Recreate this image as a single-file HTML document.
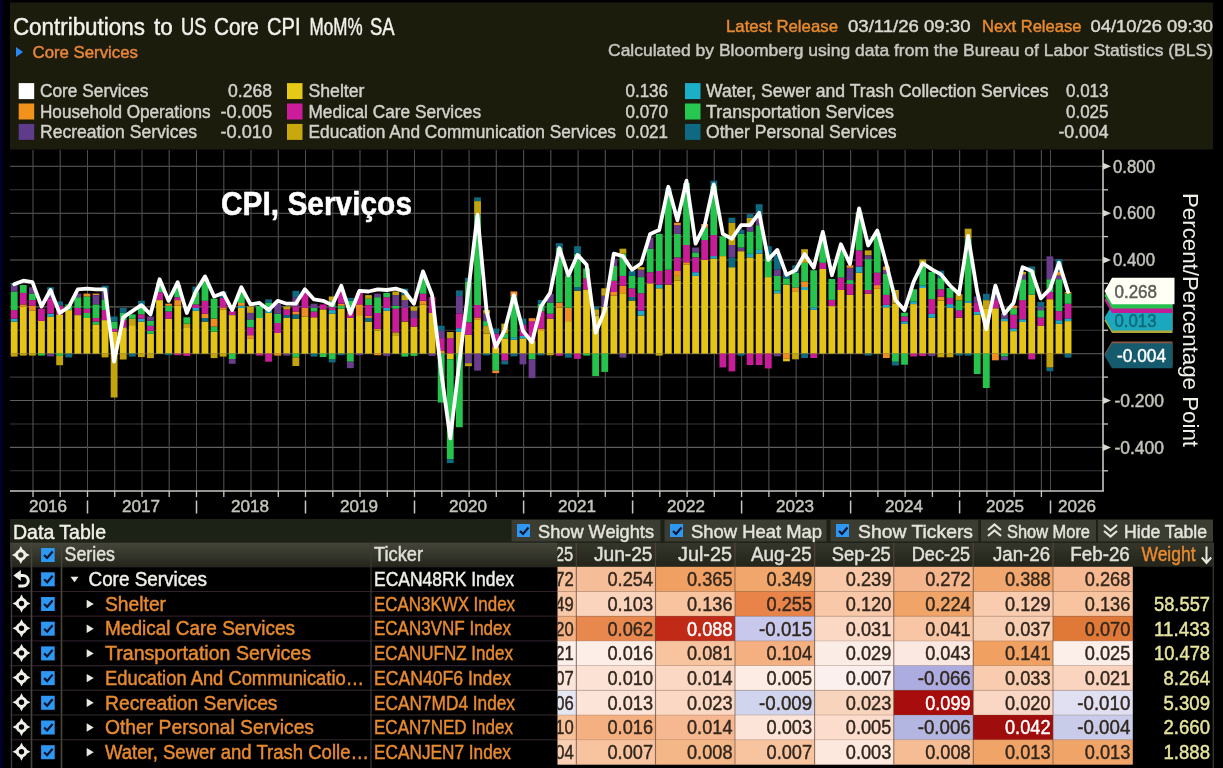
<!DOCTYPE html>
<html lang="en"><head><meta charset="utf-8"><title>Contributions to US Core CPI MoM% SA</title>
<style>
html,body{margin:0;padding:0;background:#020204;overflow:hidden}
svg{display:block;font-family:'Liberation Sans', sans-serif}
</style></head><body>
<svg width="1223" height="768" viewBox="0 0 1223 768">
<defs><filter id="soft" x="0" y="0" width="100%" height="100%" filterUnits="userSpaceOnUse"><feGaussianBlur stdDeviation="0.6"/></filter></defs>
<g filter="url(#soft)">
<rect x="0" y="0" width="1223" height="768" fill="#020204"/>
<rect x="0" y="0" width="2.6" height="768" fill="#06062e"/>
<rect x="10" y="2.5" width="1203" height="147" fill="#1a1b11"/>
<text x="12.9" y="35" font-size="23" fill="#f2f2ea" textLength="132" lengthAdjust="spacingAndGlyphs" stroke="#f2f2ea" stroke-width="0.45">Contributions</text>
<text x="154" y="35" font-size="23" fill="#f2f2ea" textLength="18.7" lengthAdjust="spacingAndGlyphs" stroke="#f2f2ea" stroke-width="0.45">to</text>
<text x="181" y="35" font-size="23" fill="#f2f2ea" textLength="25.5" lengthAdjust="spacingAndGlyphs" stroke="#f2f2ea" stroke-width="0.45">US</text>
<text x="213.9" y="35" font-size="23" fill="#f2f2ea" textLength="45" lengthAdjust="spacingAndGlyphs" stroke="#f2f2ea" stroke-width="0.45">Core</text>
<text x="267" y="35" font-size="23" fill="#f2f2ea" textLength="33.6" lengthAdjust="spacingAndGlyphs" stroke="#f2f2ea" stroke-width="0.45">CPI</text>
<text x="309.6" y="35" font-size="23" fill="#f2f2ea" textLength="53" lengthAdjust="spacingAndGlyphs" stroke="#f2f2ea" stroke-width="0.45">MoM%</text>
<text x="370" y="35" font-size="23" fill="#f2f2ea" textLength="24.6" lengthAdjust="spacingAndGlyphs" stroke="#f2f2ea" stroke-width="0.45">SA</text>
<path d="M16 47 L23 52 L16 57 Z" fill="#2a86f0"/>
<text x="32.5" y="58" font-size="17" fill="#e8873a" textLength="105.5" lengthAdjust="spacingAndGlyphs" stroke="#e8873a" stroke-width="0.45">Core Services</text>
<text x="726" y="32" font-size="17" fill="#e88a30" textLength="112" lengthAdjust="spacingAndGlyphs" stroke="#e88a30" stroke-width="0.45">Latest Release</text>
<text x="848" y="32" font-size="17" fill="#d8d8d0" textLength="122.5" lengthAdjust="spacingAndGlyphs" stroke="#d8d8d0" stroke-width="0.45">03/11/26 09:30</text>
<text x="982" y="32" font-size="17" fill="#e88a30" textLength="99.5" lengthAdjust="spacingAndGlyphs" stroke="#e88a30" stroke-width="0.45">Next Release</text>
<text x="1090.5" y="32" font-size="17" fill="#d8d8d0" textLength="122.5" lengthAdjust="spacingAndGlyphs" stroke="#d8d8d0" stroke-width="0.45">04/10/26 09:30</text>
<text x="1213" y="56" font-size="17" fill="#c8c8c0" text-anchor="end" textLength="605" lengthAdjust="spacingAndGlyphs" stroke="#c8c8c0" stroke-width="0.45">Calculated by Bloomberg using data from the Bureau of Labor Statistics (BLS)</text>
<rect x="18.7" y="83.1" width="15.5" height="16" fill="#ffffff"/>
<text x="40" y="97.3" font-size="17.5" fill="#d2d2ca" textLength="108.5" lengthAdjust="spacingAndGlyphs" stroke="#d2d2ca" stroke-width="0.45">Core Services</text>
<text x="272" y="97.3" font-size="17.5" fill="#d2d2ca" text-anchor="end" textLength="44" lengthAdjust="spacingAndGlyphs" stroke="#d2d2ca" stroke-width="0.45">0.268</text>
<rect x="18.7" y="103.5" width="15.5" height="16" fill="#f0921e"/>
<text x="40" y="117.7" font-size="17.5" fill="#d2d2ca" textLength="170.5" lengthAdjust="spacingAndGlyphs" stroke="#d2d2ca" stroke-width="0.45">Household Operations</text>
<text x="272" y="117.7" font-size="17.5" fill="#d2d2ca" text-anchor="end" textLength="51.5" lengthAdjust="spacingAndGlyphs" stroke="#d2d2ca" stroke-width="0.45">-0.005</text>
<rect x="18.7" y="123.9" width="15.5" height="16" fill="#5e3a8c"/>
<text x="40" y="138.1" font-size="17.5" fill="#d2d2ca" textLength="157" lengthAdjust="spacingAndGlyphs" stroke="#d2d2ca" stroke-width="0.45">Recreation Services</text>
<text x="272" y="138.1" font-size="17.5" fill="#d2d2ca" text-anchor="end" textLength="51.5" lengthAdjust="spacingAndGlyphs" stroke="#d2d2ca" stroke-width="0.45">-0.010</text>
<rect x="287" y="83.1" width="15.5" height="16" fill="#e6c814"/>
<text x="308.5" y="97.3" font-size="17.5" fill="#d2d2ca" textLength="56" lengthAdjust="spacingAndGlyphs" stroke="#d2d2ca" stroke-width="0.45">Shelter</text>
<text x="668" y="97.3" font-size="17.5" fill="#d2d2ca" text-anchor="end" textLength="42.5" lengthAdjust="spacingAndGlyphs" stroke="#d2d2ca" stroke-width="0.45">0.136</text>
<rect x="287" y="103.5" width="15.5" height="16" fill="#cc1a9c"/>
<text x="308.5" y="117.7" font-size="17.5" fill="#d2d2ca" textLength="172.5" lengthAdjust="spacingAndGlyphs" stroke="#d2d2ca" stroke-width="0.45">Medical Care Services</text>
<text x="668" y="117.7" font-size="17.5" fill="#d2d2ca" text-anchor="end" textLength="42.5" lengthAdjust="spacingAndGlyphs" stroke="#d2d2ca" stroke-width="0.45">0.070</text>
<rect x="287" y="123.9" width="15.5" height="16" fill="#c8a80a"/>
<text x="308.5" y="138.1" font-size="17.5" fill="#d2d2ca" textLength="307.5" lengthAdjust="spacingAndGlyphs" stroke="#d2d2ca" stroke-width="0.45">Education And Communication Services</text>
<text x="668" y="138.1" font-size="17.5" fill="#d2d2ca" text-anchor="end" textLength="42.5" lengthAdjust="spacingAndGlyphs" stroke="#d2d2ca" stroke-width="0.45">0.021</text>
<rect x="685" y="83.1" width="15.5" height="16" fill="#1fb0c8"/>
<text x="706" y="97.3" font-size="17.5" fill="#d2d2ca" textLength="342.5" lengthAdjust="spacingAndGlyphs" stroke="#d2d2ca" stroke-width="0.45">Water, Sewer and Trash Collection Services</text>
<text x="1108.5" y="97.3" font-size="17.5" fill="#d2d2ca" text-anchor="end" textLength="42.5" lengthAdjust="spacingAndGlyphs" stroke="#d2d2ca" stroke-width="0.45">0.013</text>
<rect x="685" y="103.5" width="15.5" height="16" fill="#28c850"/>
<text x="706" y="117.7" font-size="17.5" fill="#d2d2ca" textLength="188" lengthAdjust="spacingAndGlyphs" stroke="#d2d2ca" stroke-width="0.45">Transportation Services</text>
<text x="1108.5" y="117.7" font-size="17.5" fill="#d2d2ca" text-anchor="end" textLength="42.5" lengthAdjust="spacingAndGlyphs" stroke="#d2d2ca" stroke-width="0.45">0.025</text>
<rect x="685" y="123.9" width="15.5" height="16" fill="#0f6a82"/>
<text x="706" y="138.1" font-size="17.5" fill="#d2d2ca" textLength="190.5" lengthAdjust="spacingAndGlyphs" stroke="#d2d2ca" stroke-width="0.45">Other Personal Services</text>
<text x="1108.5" y="138.1" font-size="17.5" fill="#d2d2ca" text-anchor="end" textLength="50" lengthAdjust="spacingAndGlyphs" stroke="#d2d2ca" stroke-width="0.45">-0.004</text>
<rect x="10" y="150" width="1213" height="368" fill="#030303"/>
<line x1="10" y1="470.8" x2="1103" y2="470.8" stroke="#3a3a38" stroke-width="1.1"/>
<line x1="10" y1="447.4" x2="1103" y2="447.4" stroke="#5e5e5c" stroke-width="1.1"/>
<line x1="10" y1="424.0" x2="1103" y2="424.0" stroke="#3a3a38" stroke-width="1.1"/>
<line x1="10" y1="400.5" x2="1103" y2="400.5" stroke="#5e5e5c" stroke-width="1.1"/>
<line x1="10" y1="377.1" x2="1103" y2="377.1" stroke="#3a3a38" stroke-width="1.1"/>
<line x1="10" y1="353.7" x2="1103" y2="353.7" stroke="#5e5e5c" stroke-width="1.1"/>
<line x1="10" y1="330.3" x2="1103" y2="330.3" stroke="#3a3a38" stroke-width="1.1"/>
<line x1="10" y1="306.9" x2="1103" y2="306.9" stroke="#5e5e5c" stroke-width="1.1"/>
<line x1="10" y1="283.4" x2="1103" y2="283.4" stroke="#3a3a38" stroke-width="1.1"/>
<line x1="10" y1="260.0" x2="1103" y2="260.0" stroke="#5e5e5c" stroke-width="1.1"/>
<line x1="10" y1="236.6" x2="1103" y2="236.6" stroke="#3a3a38" stroke-width="1.1"/>
<line x1="10" y1="213.2" x2="1103" y2="213.2" stroke="#5e5e5c" stroke-width="1.1"/>
<line x1="10" y1="189.8" x2="1103" y2="189.8" stroke="#3a3a38" stroke-width="1.1"/>
<line x1="10" y1="166.3" x2="1103" y2="166.3" stroke="#5e5e5c" stroke-width="1.1"/>
<line x1="33.0" y1="150" x2="33.0" y2="491" stroke="#4e4e4c" stroke-width="1.1"/>
<line x1="60.2" y1="150" x2="60.2" y2="491" stroke="#4e4e4c" stroke-width="1.1"/>
<line x1="87.5" y1="150" x2="87.5" y2="491" stroke="#4e4e4c" stroke-width="1.1"/>
<line x1="114.7" y1="150" x2="114.7" y2="491" stroke="#4e4e4c" stroke-width="1.1"/>
<line x1="142.0" y1="150" x2="142.0" y2="491" stroke="#4e4e4c" stroke-width="1.1"/>
<line x1="169.2" y1="150" x2="169.2" y2="491" stroke="#4e4e4c" stroke-width="1.1"/>
<line x1="196.5" y1="150" x2="196.5" y2="491" stroke="#4e4e4c" stroke-width="1.1"/>
<line x1="223.8" y1="150" x2="223.8" y2="491" stroke="#4e4e4c" stroke-width="1.1"/>
<line x1="251.0" y1="150" x2="251.0" y2="491" stroke="#4e4e4c" stroke-width="1.1"/>
<line x1="278.3" y1="150" x2="278.3" y2="491" stroke="#4e4e4c" stroke-width="1.1"/>
<line x1="305.5" y1="150" x2="305.5" y2="491" stroke="#4e4e4c" stroke-width="1.1"/>
<line x1="332.8" y1="150" x2="332.8" y2="491" stroke="#4e4e4c" stroke-width="1.1"/>
<line x1="360.0" y1="150" x2="360.0" y2="491" stroke="#4e4e4c" stroke-width="1.1"/>
<line x1="387.3" y1="150" x2="387.3" y2="491" stroke="#4e4e4c" stroke-width="1.1"/>
<line x1="414.5" y1="150" x2="414.5" y2="491" stroke="#4e4e4c" stroke-width="1.1"/>
<line x1="441.8" y1="150" x2="441.8" y2="491" stroke="#4e4e4c" stroke-width="1.1"/>
<line x1="469.1" y1="150" x2="469.1" y2="491" stroke="#4e4e4c" stroke-width="1.1"/>
<line x1="496.3" y1="150" x2="496.3" y2="491" stroke="#4e4e4c" stroke-width="1.1"/>
<line x1="523.6" y1="150" x2="523.6" y2="491" stroke="#4e4e4c" stroke-width="1.1"/>
<line x1="550.8" y1="150" x2="550.8" y2="491" stroke="#4e4e4c" stroke-width="1.1"/>
<line x1="578.1" y1="150" x2="578.1" y2="491" stroke="#4e4e4c" stroke-width="1.1"/>
<line x1="605.3" y1="150" x2="605.3" y2="491" stroke="#4e4e4c" stroke-width="1.1"/>
<line x1="632.6" y1="150" x2="632.6" y2="491" stroke="#4e4e4c" stroke-width="1.1"/>
<line x1="659.8" y1="150" x2="659.8" y2="491" stroke="#4e4e4c" stroke-width="1.1"/>
<line x1="687.1" y1="150" x2="687.1" y2="491" stroke="#4e4e4c" stroke-width="1.1"/>
<line x1="714.3" y1="150" x2="714.3" y2="491" stroke="#4e4e4c" stroke-width="1.1"/>
<line x1="741.6" y1="150" x2="741.6" y2="491" stroke="#4e4e4c" stroke-width="1.1"/>
<line x1="768.9" y1="150" x2="768.9" y2="491" stroke="#4e4e4c" stroke-width="1.1"/>
<line x1="796.1" y1="150" x2="796.1" y2="491" stroke="#4e4e4c" stroke-width="1.1"/>
<line x1="823.4" y1="150" x2="823.4" y2="491" stroke="#4e4e4c" stroke-width="1.1"/>
<line x1="850.6" y1="150" x2="850.6" y2="491" stroke="#4e4e4c" stroke-width="1.1"/>
<line x1="877.9" y1="150" x2="877.9" y2="491" stroke="#4e4e4c" stroke-width="1.1"/>
<line x1="905.1" y1="150" x2="905.1" y2="491" stroke="#4e4e4c" stroke-width="1.1"/>
<line x1="932.4" y1="150" x2="932.4" y2="491" stroke="#4e4e4c" stroke-width="1.1"/>
<line x1="959.6" y1="150" x2="959.6" y2="491" stroke="#4e4e4c" stroke-width="1.1"/>
<line x1="986.9" y1="150" x2="986.9" y2="491" stroke="#4e4e4c" stroke-width="1.1"/>
<line x1="1014.2" y1="150" x2="1014.2" y2="491" stroke="#4e4e4c" stroke-width="1.1"/>
<line x1="1041.4" y1="150" x2="1041.4" y2="491" stroke="#4e4e4c" stroke-width="1.1"/>
<line x1="1050.5" y1="150" x2="1050.5" y2="491" stroke="#4e4e4c" stroke-width="1"/>
<rect x="10.8" y="321.6" width="6.8" height="32.0" fill="#e4c412"/>
<rect x="10.8" y="318.7" width="6.8" height="2.9" fill="#20acc4"/>
<rect x="10.8" y="310.1" width="6.8" height="8.6" fill="#c81c98"/>
<rect x="10.8" y="291.5" width="6.8" height="18.6" fill="#26c44e"/>
<rect x="10.8" y="285.8" width="6.8" height="5.7" fill="#6a3c8c"/>
<rect x="10.8" y="282.9" width="6.8" height="2.9" fill="#106a80"/>
<rect x="10.8" y="353.6" width="6.8" height="3.0" fill="#c4a40c"/>
<rect x="19.89" y="306.5" width="6.8" height="47.1" fill="#e4c412"/>
<rect x="19.89" y="304.4" width="6.8" height="2.1" fill="#ee8e22"/>
<rect x="19.89" y="292.9" width="6.8" height="11.5" fill="#c81c98"/>
<rect x="19.89" y="285.0" width="6.8" height="7.9" fill="#26c44e"/>
<rect x="19.89" y="353.6" width="6.8" height="2.0" fill="#c4a40c"/>
<rect x="28.97" y="310.8" width="6.8" height="42.8" fill="#e4c412"/>
<rect x="28.97" y="305.8" width="6.8" height="5.0" fill="#ee8e22"/>
<rect x="28.97" y="300.1" width="6.8" height="5.7" fill="#c81c98"/>
<rect x="28.97" y="293.6" width="6.8" height="6.4" fill="#26c44e"/>
<rect x="28.97" y="287.2" width="6.8" height="6.4" fill="#6a3c8c"/>
<rect x="28.97" y="353.6" width="6.8" height="2.0" fill="#c4a40c"/>
<rect x="38.05" y="320.8" width="6.8" height="32.8" fill="#e4c412"/>
<rect x="38.05" y="308.7" width="6.8" height="12.2" fill="#c81c98"/>
<rect x="38.05" y="353.6" width="6.8" height="2.0" fill="#26c44e"/>
<rect x="47.14" y="316.5" width="6.8" height="37.1" fill="#e4c412"/>
<rect x="47.14" y="313.7" width="6.8" height="2.9" fill="#20acc4"/>
<rect x="47.14" y="298.6" width="6.8" height="15.0" fill="#c81c98"/>
<rect x="47.14" y="290.0" width="6.8" height="8.6" fill="#6a3c8c"/>
<rect x="47.14" y="287.2" width="6.8" height="2.9" fill="#106a80"/>
<rect x="47.14" y="353.6" width="6.8" height="2.8" fill="#6a3c8c"/>
<rect x="56.23" y="314.4" width="6.8" height="39.2" fill="#e4c412"/>
<rect x="56.23" y="305.8" width="6.8" height="8.6" fill="#c81c98"/>
<rect x="56.23" y="301.5" width="6.8" height="4.3" fill="#106a80"/>
<rect x="56.23" y="353.6" width="6.8" height="2.3" fill="#26c44e"/>
<rect x="56.23" y="355.9" width="6.8" height="9.3" fill="#c4a40c"/>
<rect x="65.31" y="310.1" width="6.8" height="43.5" fill="#e4c412"/>
<rect x="65.31" y="304.4" width="6.8" height="5.7" fill="#26c44e"/>
<rect x="65.31" y="353.6" width="6.8" height="3.8" fill="#106a80"/>
<rect x="74.39" y="315.1" width="6.8" height="38.5" fill="#e4c412"/>
<rect x="74.39" y="307.9" width="6.8" height="7.2" fill="#c81c98"/>
<rect x="74.39" y="297.2" width="6.8" height="10.7" fill="#26c44e"/>
<rect x="74.39" y="293.6" width="6.8" height="3.6" fill="#6a3c8c"/>
<rect x="83.48" y="318.0" width="6.8" height="35.6" fill="#e4c412"/>
<rect x="83.48" y="313.0" width="6.8" height="5.0" fill="#26c44e"/>
<rect x="83.48" y="308.7" width="6.8" height="4.3" fill="#c81c98"/>
<rect x="83.48" y="296.5" width="6.8" height="12.2" fill="#26c44e"/>
<rect x="83.48" y="293.6" width="6.8" height="2.9" fill="#ee8e22"/>
<rect x="92.57" y="324.4" width="6.8" height="29.2" fill="#e4c412"/>
<rect x="92.57" y="321.6" width="6.8" height="2.9" fill="#26c44e"/>
<rect x="92.57" y="318.0" width="6.8" height="3.6" fill="#c81c98"/>
<rect x="92.57" y="304.4" width="6.8" height="13.6" fill="#26c44e"/>
<rect x="92.57" y="295.1" width="6.8" height="9.3" fill="#6a3c8c"/>
<rect x="92.57" y="293.6" width="6.8" height="1.4" fill="#ee8e22"/>
<rect x="101.65" y="320.1" width="6.8" height="33.5" fill="#e4c412"/>
<rect x="101.65" y="310.1" width="6.8" height="10.0" fill="#c81c98"/>
<rect x="101.65" y="299.4" width="6.8" height="10.7" fill="#26c44e"/>
<rect x="101.65" y="291.5" width="6.8" height="7.9" fill="#6a3c8c"/>
<rect x="101.65" y="285.8" width="6.8" height="5.7" fill="#106a80"/>
<rect x="101.65" y="353.6" width="6.8" height="3.8" fill="#c4a40c"/>
<rect x="110.73" y="331.6" width="6.8" height="22.0" fill="#e4c412"/>
<rect x="110.73" y="328.7" width="6.8" height="2.9" fill="#c81c98"/>
<rect x="110.73" y="321.6" width="6.8" height="7.2" fill="#26c44e"/>
<rect x="110.73" y="316.5" width="6.8" height="5.0" fill="#106a80"/>
<rect x="110.73" y="353.6" width="6.8" height="43.9" fill="#c4a40c"/>
<rect x="119.82" y="327.3" width="6.8" height="26.3" fill="#e4c412"/>
<rect x="119.82" y="320.1" width="6.8" height="7.2" fill="#c81c98"/>
<rect x="119.82" y="313.0" width="6.8" height="7.2" fill="#26c44e"/>
<rect x="119.82" y="307.9" width="6.8" height="5.0" fill="#106a80"/>
<rect x="119.82" y="353.6" width="6.8" height="5.9" fill="#c4a40c"/>
<rect x="128.91" y="325.1" width="6.8" height="28.5" fill="#e4c412"/>
<rect x="128.91" y="318.7" width="6.8" height="6.4" fill="#c4a40c"/>
<rect x="128.91" y="314.4" width="6.8" height="4.3" fill="#26c44e"/>
<rect x="128.91" y="353.6" width="6.8" height="3.0" fill="#106a80"/>
<rect x="137.99" y="321.6" width="6.8" height="32.0" fill="#e4c412"/>
<rect x="137.99" y="318.7" width="6.8" height="2.9" fill="#20acc4"/>
<rect x="137.99" y="314.4" width="6.8" height="4.3" fill="#c81c98"/>
<rect x="137.99" y="304.4" width="6.8" height="10.0" fill="#26c44e"/>
<rect x="137.99" y="300.8" width="6.8" height="3.6" fill="#106a80"/>
<rect x="137.99" y="353.6" width="6.8" height="3.5" fill="#c4a40c"/>
<rect x="147.07" y="333.7" width="6.8" height="19.9" fill="#e4c412"/>
<rect x="147.07" y="330.9" width="6.8" height="2.9" fill="#26c44e"/>
<rect x="147.07" y="325.8" width="6.8" height="5.0" fill="#c81c98"/>
<rect x="147.07" y="320.8" width="6.8" height="5.0" fill="#26c44e"/>
<rect x="147.07" y="316.5" width="6.8" height="4.3" fill="#6a3c8c"/>
<rect x="147.07" y="353.6" width="6.8" height="4.5" fill="#c4a40c"/>
<rect x="156.16" y="300.1" width="6.8" height="53.5" fill="#e4c412"/>
<rect x="156.16" y="292.2" width="6.8" height="7.9" fill="#c81c98"/>
<rect x="156.16" y="282.2" width="6.8" height="10.0" fill="#26c44e"/>
<rect x="165.25" y="318.7" width="6.8" height="34.9" fill="#e4c412"/>
<rect x="165.25" y="311.5" width="6.8" height="7.2" fill="#c81c98"/>
<rect x="165.25" y="305.8" width="6.8" height="5.7" fill="#26c44e"/>
<rect x="165.25" y="303.7" width="6.8" height="2.1" fill="#ee8e22"/>
<rect x="165.25" y="353.6" width="6.8" height="1.6" fill="#106a80"/>
<rect x="174.33" y="305.8" width="6.8" height="47.8" fill="#e4c412"/>
<rect x="174.33" y="300.1" width="6.8" height="5.7" fill="#ee8e22"/>
<rect x="174.33" y="297.2" width="6.8" height="2.9" fill="#c81c98"/>
<rect x="174.33" y="285.0" width="6.8" height="12.2" fill="#26c44e"/>
<rect x="174.33" y="353.6" width="6.8" height="1.6" fill="#c81c98"/>
<rect x="183.41" y="328.0" width="6.8" height="25.6" fill="#e4c412"/>
<rect x="183.41" y="323.7" width="6.8" height="4.3" fill="#c4a40c"/>
<rect x="183.41" y="317.3" width="6.8" height="6.4" fill="#26c44e"/>
<rect x="183.41" y="353.6" width="6.8" height="2.3" fill="#c81c98"/>
<rect x="192.5" y="310.8" width="6.8" height="42.8" fill="#e4c412"/>
<rect x="192.5" y="307.9" width="6.8" height="2.9" fill="#20acc4"/>
<rect x="192.5" y="304.4" width="6.8" height="3.6" fill="#c81c98"/>
<rect x="192.5" y="291.5" width="6.8" height="12.9" fill="#26c44e"/>
<rect x="192.5" y="286.5" width="6.8" height="5.0" fill="#106a80"/>
<rect x="201.59" y="321.6" width="6.8" height="32.0" fill="#e4c412"/>
<rect x="201.59" y="318.0" width="6.8" height="3.6" fill="#106a80"/>
<rect x="201.59" y="313.7" width="6.8" height="4.3" fill="#ee8e22"/>
<rect x="201.59" y="300.8" width="6.8" height="12.9" fill="#c81c98"/>
<rect x="201.59" y="278.6" width="6.8" height="22.2" fill="#26c44e"/>
<rect x="210.67" y="331.6" width="6.8" height="22.0" fill="#e4c412"/>
<rect x="210.67" y="326.6" width="6.8" height="5.0" fill="#26c44e"/>
<rect x="210.67" y="318.7" width="6.8" height="7.9" fill="#ee8e22"/>
<rect x="210.67" y="298.6" width="6.8" height="20.0" fill="#26c44e"/>
<rect x="210.67" y="353.6" width="6.8" height="4.5" fill="#c4a40c"/>
<rect x="219.75" y="309.4" width="6.8" height="44.2" fill="#e4c412"/>
<rect x="219.75" y="307.5" width="6.8" height="1.9" fill="#ee8e22"/>
<rect x="219.75" y="297.9" width="6.8" height="9.6" fill="#c81c98"/>
<rect x="219.75" y="291.5" width="6.8" height="6.4" fill="#106a80"/>
<rect x="219.75" y="353.6" width="6.8" height="3.0" fill="#c4a40c"/>
<rect x="228.84" y="315.1" width="6.8" height="38.5" fill="#e4c412"/>
<rect x="228.84" y="311.1" width="6.8" height="4.0" fill="#c81c98"/>
<rect x="228.84" y="353.6" width="6.8" height="5.5" fill="#26c44e"/>
<rect x="228.84" y="359.1" width="6.8" height="4.7" fill="#6a3c8c"/>
<rect x="237.93" y="307.9" width="6.8" height="45.7" fill="#e4c412"/>
<rect x="237.93" y="305.8" width="6.8" height="2.1" fill="#20acc4"/>
<rect x="237.93" y="302.9" width="6.8" height="2.9" fill="#ee8e22"/>
<rect x="237.93" y="291.5" width="6.8" height="11.5" fill="#26c44e"/>
<rect x="247.01" y="338.7" width="6.8" height="14.9" fill="#e4c412"/>
<rect x="247.01" y="335.2" width="6.8" height="3.6" fill="#ee8e22"/>
<rect x="247.01" y="327.3" width="6.8" height="7.9" fill="#c81c98"/>
<rect x="247.01" y="319.4" width="6.8" height="7.9" fill="#26c44e"/>
<rect x="247.01" y="313.0" width="6.8" height="6.4" fill="#6a3c8c"/>
<rect x="247.01" y="306.5" width="6.8" height="6.4" fill="#c4a40c"/>
<rect x="256.1" y="318.0" width="6.8" height="35.6" fill="#e4c412"/>
<rect x="256.1" y="305.8" width="6.8" height="12.2" fill="#26c44e"/>
<rect x="256.1" y="353.6" width="6.8" height="2.0" fill="#c81c98"/>
<rect x="265.18" y="313.0" width="6.8" height="40.6" fill="#e4c412"/>
<rect x="265.18" y="310.8" width="6.8" height="2.1" fill="#20acc4"/>
<rect x="265.18" y="302.9" width="6.8" height="7.9" fill="#26c44e"/>
<rect x="265.18" y="299.4" width="6.8" height="3.6" fill="#106a80"/>
<rect x="265.18" y="353.6" width="6.8" height="8.1" fill="#c81c98"/>
<rect x="274.27" y="333.0" width="6.8" height="20.6" fill="#e4c412"/>
<rect x="274.27" y="323.0" width="6.8" height="10.0" fill="#c81c98"/>
<rect x="274.27" y="313.7" width="6.8" height="9.3" fill="#26c44e"/>
<rect x="274.27" y="303.7" width="6.8" height="10.0" fill="#6a3c8c"/>
<rect x="274.27" y="353.6" width="6.8" height="2.0" fill="#ee8e22"/>
<rect x="283.35" y="318.0" width="6.8" height="35.6" fill="#e4c412"/>
<rect x="283.35" y="315.1" width="6.8" height="2.9" fill="#106a80"/>
<rect x="283.35" y="309.4" width="6.8" height="5.7" fill="#c81c98"/>
<rect x="283.35" y="306.5" width="6.8" height="2.9" fill="#c4a40c"/>
<rect x="283.35" y="353.6" width="6.8" height="2.0" fill="#6a3c8c"/>
<rect x="292.44" y="318.7" width="6.8" height="34.9" fill="#e4c412"/>
<rect x="292.44" y="314.4" width="6.8" height="4.3" fill="#106a80"/>
<rect x="292.44" y="311.5" width="6.8" height="2.9" fill="#ee8e22"/>
<rect x="292.44" y="306.5" width="6.8" height="5.0" fill="#c81c98"/>
<rect x="292.44" y="297.2" width="6.8" height="9.3" fill="#6a3c8c"/>
<rect x="292.44" y="290.8" width="6.8" height="6.4" fill="#106a80"/>
<rect x="292.44" y="353.6" width="6.8" height="3.8" fill="#26c44e"/>
<rect x="292.44" y="357.4" width="6.8" height="8.6" fill="#c4a40c"/>
<rect x="301.52" y="316.5" width="6.8" height="37.1" fill="#e4c412"/>
<rect x="301.52" y="307.9" width="6.8" height="8.6" fill="#ee8e22"/>
<rect x="301.52" y="292.9" width="6.8" height="15.0" fill="#c81c98"/>
<rect x="310.61" y="317.3" width="6.8" height="36.3" fill="#e4c412"/>
<rect x="310.61" y="311.5" width="6.8" height="5.7" fill="#c81c98"/>
<rect x="310.61" y="307.9" width="6.8" height="3.6" fill="#26c44e"/>
<rect x="310.61" y="303.7" width="6.8" height="4.3" fill="#6a3c8c"/>
<rect x="310.61" y="353.6" width="6.8" height="3.0" fill="#106a80"/>
<rect x="319.69" y="309.4" width="6.8" height="44.2" fill="#e4c412"/>
<rect x="319.69" y="304.4" width="6.8" height="5.0" fill="#c81c98"/>
<rect x="319.69" y="353.6" width="6.8" height="3.5" fill="#26c44e"/>
<rect x="328.78" y="313.7" width="6.8" height="39.9" fill="#e4c412"/>
<rect x="328.78" y="310.1" width="6.8" height="3.6" fill="#20acc4"/>
<rect x="328.78" y="307.2" width="6.8" height="2.9" fill="#c81c98"/>
<rect x="328.78" y="300.8" width="6.8" height="6.4" fill="#26c44e"/>
<rect x="328.78" y="296.5" width="6.8" height="4.3" fill="#c4a40c"/>
<rect x="328.78" y="353.6" width="6.8" height="5.9" fill="#26c44e"/>
<rect x="328.78" y="359.5" width="6.8" height="2.9" fill="#106a80"/>
<rect x="337.86" y="308.7" width="6.8" height="44.9" fill="#e4c412"/>
<rect x="337.86" y="305.8" width="6.8" height="2.9" fill="#26c44e"/>
<rect x="337.86" y="303.7" width="6.8" height="2.1" fill="#ee8e22"/>
<rect x="337.86" y="290.0" width="6.8" height="13.6" fill="#c81c98"/>
<rect x="337.86" y="353.6" width="6.8" height="1.6" fill="#106a80"/>
<rect x="346.95" y="318.0" width="6.8" height="35.6" fill="#e4c412"/>
<rect x="346.95" y="311.5" width="6.8" height="6.4" fill="#c81c98"/>
<rect x="346.95" y="300.8" width="6.8" height="10.7" fill="#26c44e"/>
<rect x="346.95" y="297.9" width="6.8" height="2.9" fill="#106a80"/>
<rect x="346.95" y="353.6" width="6.8" height="8.1" fill="#26c44e"/>
<rect x="346.95" y="361.7" width="6.8" height="6.4" fill="#6a3c8c"/>
<rect x="356.03" y="315.1" width="6.8" height="38.5" fill="#e4c412"/>
<rect x="356.03" y="304.4" width="6.8" height="10.7" fill="#ee8e22"/>
<rect x="356.03" y="292.9" width="6.8" height="11.5" fill="#c81c98"/>
<rect x="356.03" y="353.6" width="6.8" height="1.6" fill="#6a3c8c"/>
<rect x="365.12" y="321.6" width="6.8" height="32.0" fill="#e4c412"/>
<rect x="365.12" y="318.0" width="6.8" height="3.6" fill="#106a80"/>
<rect x="365.12" y="315.8" width="6.8" height="2.1" fill="#ee8e22"/>
<rect x="365.12" y="305.1" width="6.8" height="10.7" fill="#c81c98"/>
<rect x="365.12" y="298.6" width="6.8" height="6.4" fill="#26c44e"/>
<rect x="365.12" y="295.1" width="6.8" height="3.6" fill="#c4a40c"/>
<rect x="374.2" y="330.9" width="6.8" height="22.7" fill="#e4c412"/>
<rect x="374.2" y="328.7" width="6.8" height="2.1" fill="#c4a40c"/>
<rect x="374.2" y="313.0" width="6.8" height="15.8" fill="#c81c98"/>
<rect x="374.2" y="297.2" width="6.8" height="15.8" fill="#26c44e"/>
<rect x="374.2" y="293.6" width="6.8" height="3.6" fill="#6a3c8c"/>
<rect x="374.2" y="353.6" width="6.8" height="1.6" fill="#ee8e22"/>
<rect x="383.29" y="310.8" width="6.8" height="42.8" fill="#e4c412"/>
<rect x="383.29" y="307.9" width="6.8" height="2.9" fill="#20acc4"/>
<rect x="383.29" y="297.2" width="6.8" height="10.7" fill="#c81c98"/>
<rect x="383.29" y="292.9" width="6.8" height="4.3" fill="#26c44e"/>
<rect x="383.29" y="353.6" width="6.8" height="2.3" fill="#6a3c8c"/>
<rect x="392.37" y="335.2" width="6.8" height="18.4" fill="#e4c412"/>
<rect x="392.37" y="332.3" width="6.8" height="2.9" fill="#c4a40c"/>
<rect x="392.37" y="308.7" width="6.8" height="23.6" fill="#c81c98"/>
<rect x="392.37" y="305.8" width="6.8" height="2.9" fill="#26c44e"/>
<rect x="392.37" y="295.1" width="6.8" height="10.7" fill="#6a3c8c"/>
<rect x="392.37" y="291.5" width="6.8" height="3.6" fill="#c4a40c"/>
<rect x="401.46" y="321.6" width="6.8" height="32.0" fill="#e4c412"/>
<rect x="401.46" y="307.9" width="6.8" height="13.6" fill="#c81c98"/>
<rect x="401.46" y="300.1" width="6.8" height="7.9" fill="#6a3c8c"/>
<rect x="401.46" y="295.1" width="6.8" height="5.0" fill="#c4a40c"/>
<rect x="401.46" y="288.6" width="6.8" height="6.4" fill="#106a80"/>
<rect x="401.46" y="353.6" width="6.8" height="3.0" fill="#26c44e"/>
<rect x="410.54" y="326.6" width="6.8" height="27.0" fill="#e4c412"/>
<rect x="410.54" y="318.0" width="6.8" height="8.6" fill="#c81c98"/>
<rect x="410.54" y="310.8" width="6.8" height="7.2" fill="#6a3c8c"/>
<rect x="410.54" y="306.5" width="6.8" height="4.3" fill="#c4a40c"/>
<rect x="410.54" y="353.6" width="6.8" height="2.3" fill="#26c44e"/>
<rect x="419.63" y="304.4" width="6.8" height="49.2" fill="#e4c412"/>
<rect x="419.63" y="300.8" width="6.8" height="3.6" fill="#ee8e22"/>
<rect x="419.63" y="293.6" width="6.8" height="7.2" fill="#c81c98"/>
<rect x="419.63" y="277.2" width="6.8" height="16.5" fill="#26c44e"/>
<rect x="419.63" y="274.3" width="6.8" height="2.9" fill="#106a80"/>
<rect x="428.71" y="313.0" width="6.8" height="40.6" fill="#e4c412"/>
<rect x="428.71" y="297.2" width="6.8" height="15.8" fill="#c81c98"/>
<rect x="428.71" y="353.6" width="6.8" height="2.3" fill="#6a3c8c"/>
<rect x="437.8" y="350.5" width="6.8" height="3.1" fill="#ee8e22"/>
<rect x="437.8" y="338.1" width="6.8" height="12.4" fill="#c81c98"/>
<rect x="437.8" y="330.7" width="6.8" height="7.4" fill="#6a3c8c"/>
<rect x="437.8" y="325.8" width="6.8" height="4.9" fill="#106a80"/>
<rect x="437.8" y="353.6" width="6.8" height="48.9" fill="#26c44e"/>
<rect x="446.88" y="338.1" width="6.8" height="15.5" fill="#c81c98"/>
<rect x="446.88" y="332.0" width="6.8" height="6.2" fill="#c4a40c"/>
<rect x="446.88" y="353.6" width="6.8" height="5.6" fill="#e4c412"/>
<rect x="446.88" y="359.2" width="6.8" height="100.2" fill="#26c44e"/>
<rect x="446.88" y="459.4" width="6.8" height="3.7" fill="#106a80"/>
<rect x="455.97" y="332.0" width="6.8" height="21.6" fill="#e4c412"/>
<rect x="455.97" y="328.2" width="6.8" height="3.7" fill="#20acc4"/>
<rect x="455.97" y="313.4" width="6.8" height="14.8" fill="#c81c98"/>
<rect x="455.97" y="296.1" width="6.8" height="17.3" fill="#6a3c8c"/>
<rect x="455.97" y="290.4" width="6.8" height="5.7" fill="#106a80"/>
<rect x="455.97" y="353.6" width="6.8" height="73.6" fill="#26c44e"/>
<rect x="465.05" y="334.7" width="6.8" height="18.9" fill="#e4c412"/>
<rect x="465.05" y="322.4" width="6.8" height="12.4" fill="#c81c98"/>
<rect x="465.05" y="281.5" width="6.8" height="40.8" fill="#26c44e"/>
<rect x="465.05" y="277.8" width="6.8" height="3.7" fill="#106a80"/>
<rect x="465.05" y="353.6" width="6.8" height="9.6" fill="#6a3c8c"/>
<rect x="465.05" y="363.2" width="6.8" height="3.0" fill="#c4a40c"/>
<rect x="474.14" y="319.9" width="6.8" height="33.7" fill="#e4c412"/>
<rect x="474.14" y="317.4" width="6.8" height="2.5" fill="#ee8e22"/>
<rect x="474.14" y="305.0" width="6.8" height="12.4" fill="#c81c98"/>
<rect x="474.14" y="214.7" width="6.8" height="90.3" fill="#26c44e"/>
<rect x="474.14" y="201.1" width="6.8" height="13.6" fill="#c4a40c"/>
<rect x="474.14" y="197.4" width="6.8" height="3.7" fill="#106a80"/>
<rect x="474.14" y="353.6" width="6.8" height="17.0" fill="#6a3c8c"/>
<rect x="483.22" y="333.5" width="6.8" height="20.1" fill="#e4c412"/>
<rect x="483.22" y="326.1" width="6.8" height="7.4" fill="#c4a40c"/>
<rect x="483.22" y="321.1" width="6.8" height="4.9" fill="#26c44e"/>
<rect x="483.22" y="313.7" width="6.8" height="7.4" fill="#6a3c8c"/>
<rect x="483.22" y="310.0" width="6.8" height="3.7" fill="#c4a40c"/>
<rect x="483.22" y="353.6" width="6.8" height="1.7" fill="#106a80"/>
<rect x="492.31" y="347.1" width="6.8" height="6.5" fill="#e4c412"/>
<rect x="492.31" y="333.5" width="6.8" height="13.6" fill="#c81c98"/>
<rect x="492.31" y="328.5" width="6.8" height="4.9" fill="#106a80"/>
<rect x="492.31" y="353.6" width="6.8" height="17.0" fill="#26c44e"/>
<rect x="492.31" y="370.6" width="6.8" height="2.5" fill="#ee8e22"/>
<rect x="501.39" y="338.4" width="6.8" height="15.2" fill="#e4c412"/>
<rect x="501.39" y="333.5" width="6.8" height="4.9" fill="#26c44e"/>
<rect x="501.39" y="323.6" width="6.8" height="9.9" fill="#c4a40c"/>
<rect x="501.39" y="353.6" width="6.8" height="7.1" fill="#c81c98"/>
<rect x="501.39" y="360.7" width="6.8" height="3.7" fill="#106a80"/>
<rect x="510.48" y="339.7" width="6.8" height="13.9" fill="#e4c412"/>
<rect x="510.48" y="337.2" width="6.8" height="2.5" fill="#20acc4"/>
<rect x="510.48" y="296.4" width="6.8" height="40.8" fill="#26c44e"/>
<rect x="510.48" y="291.4" width="6.8" height="4.9" fill="#ee8e22"/>
<rect x="510.48" y="353.6" width="6.8" height="2.7" fill="#106a80"/>
<rect x="519.56" y="338.4" width="6.8" height="15.2" fill="#e4c412"/>
<rect x="519.56" y="336.0" width="6.8" height="2.5" fill="#20acc4"/>
<rect x="519.56" y="324.8" width="6.8" height="11.1" fill="#c81c98"/>
<rect x="519.56" y="318.6" width="6.8" height="6.2" fill="#106a80"/>
<rect x="519.56" y="353.6" width="6.8" height="10.8" fill="#6a3c8c"/>
<rect x="528.65" y="340.9" width="6.8" height="12.7" fill="#e4c412"/>
<rect x="528.65" y="321.1" width="6.8" height="19.8" fill="#c81c98"/>
<rect x="528.65" y="318.2" width="6.8" height="3.0" fill="#ee8e22"/>
<rect x="528.65" y="353.6" width="6.8" height="5.9" fill="#26c44e"/>
<rect x="528.65" y="359.5" width="6.8" height="18.6" fill="#6a3c8c"/>
<rect x="537.73" y="331.0" width="6.8" height="22.6" fill="#e4c412"/>
<rect x="537.73" y="328.5" width="6.8" height="2.5" fill="#ee8e22"/>
<rect x="537.73" y="311.2" width="6.8" height="17.3" fill="#c81c98"/>
<rect x="537.73" y="303.8" width="6.8" height="7.4" fill="#26c44e"/>
<rect x="537.73" y="300.1" width="6.8" height="3.7" fill="#106a80"/>
<rect x="537.73" y="353.6" width="6.8" height="1.7" fill="#106a80"/>
<rect x="546.82" y="318.6" width="6.8" height="35.0" fill="#e4c412"/>
<rect x="546.82" y="313.7" width="6.8" height="4.9" fill="#c81c98"/>
<rect x="546.82" y="302.6" width="6.8" height="11.1" fill="#26c44e"/>
<rect x="546.82" y="293.9" width="6.8" height="8.7" fill="#6a3c8c"/>
<rect x="546.82" y="353.6" width="6.8" height="1.7" fill="#c4a40c"/>
<rect x="555.9" y="307.5" width="6.8" height="46.1" fill="#e4c412"/>
<rect x="555.9" y="302.6" width="6.8" height="4.9" fill="#ee8e22"/>
<rect x="555.9" y="248.1" width="6.8" height="54.4" fill="#26c44e"/>
<rect x="555.9" y="243.2" width="6.8" height="4.9" fill="#106a80"/>
<rect x="555.9" y="353.6" width="6.8" height="2.2" fill="#c81c98"/>
<rect x="564.99" y="321.1" width="6.8" height="32.5" fill="#e4c412"/>
<rect x="564.99" y="307.5" width="6.8" height="13.6" fill="#ee8e22"/>
<rect x="564.99" y="275.4" width="6.8" height="32.2" fill="#26c44e"/>
<rect x="564.99" y="271.6" width="6.8" height="3.7" fill="#106a80"/>
<rect x="564.99" y="353.6" width="6.8" height="4.1" fill="#106a80"/>
<rect x="574.07" y="290.8" width="6.8" height="62.8" fill="#e4c412"/>
<rect x="574.07" y="287.0" width="6.8" height="3.7" fill="#106a80"/>
<rect x="574.07" y="253.6" width="6.8" height="33.4" fill="#26c44e"/>
<rect x="574.07" y="246.2" width="6.8" height="7.4" fill="#106a80"/>
<rect x="574.07" y="353.6" width="6.8" height="5.2" fill="#c81c98"/>
<rect x="583.16" y="289.5" width="6.8" height="64.1" fill="#e4c412"/>
<rect x="583.16" y="278.4" width="6.8" height="11.1" fill="#c81c98"/>
<rect x="583.16" y="268.5" width="6.8" height="9.9" fill="#26c44e"/>
<rect x="583.16" y="353.6" width="6.8" height="2.0" fill="#26c44e"/>
<rect x="592.24" y="315.5" width="6.8" height="38.1" fill="#e4c412"/>
<rect x="592.24" y="309.3" width="6.8" height="6.2" fill="#c4a40c"/>
<rect x="592.24" y="306.8" width="6.8" height="2.5" fill="#106a80"/>
<rect x="592.24" y="353.6" width="6.8" height="22.5" fill="#26c44e"/>
<rect x="601.33" y="306.8" width="6.8" height="46.8" fill="#e4c412"/>
<rect x="601.33" y="295.7" width="6.8" height="11.1" fill="#6a3c8c"/>
<rect x="601.33" y="288.3" width="6.8" height="7.4" fill="#c4a40c"/>
<rect x="601.33" y="353.6" width="6.8" height="18.3" fill="#26c44e"/>
<rect x="610.41" y="295.7" width="6.8" height="57.9" fill="#e4c412"/>
<rect x="610.41" y="292.0" width="6.8" height="3.7" fill="#ee8e22"/>
<rect x="610.41" y="280.9" width="6.8" height="11.1" fill="#c81c98"/>
<rect x="610.41" y="266.0" width="6.8" height="14.8" fill="#26c44e"/>
<rect x="610.41" y="258.6" width="6.8" height="7.4" fill="#6a3c8c"/>
<rect x="619.5" y="293.2" width="6.8" height="60.4" fill="#e4c412"/>
<rect x="619.5" y="285.8" width="6.8" height="7.4" fill="#ee8e22"/>
<rect x="619.5" y="275.9" width="6.8" height="9.9" fill="#c81c98"/>
<rect x="619.5" y="253.6" width="6.8" height="22.3" fill="#26c44e"/>
<rect x="619.5" y="248.7" width="6.8" height="4.9" fill="#c4a40c"/>
<rect x="619.5" y="353.6" width="6.8" height="4.0" fill="#6a3c8c"/>
<rect x="628.58" y="300.6" width="6.8" height="53.0" fill="#e4c412"/>
<rect x="628.58" y="296.9" width="6.8" height="3.7" fill="#106a80"/>
<rect x="628.58" y="288.3" width="6.8" height="8.7" fill="#c81c98"/>
<rect x="628.58" y="275.9" width="6.8" height="12.4" fill="#26c44e"/>
<rect x="628.58" y="271.0" width="6.8" height="4.9" fill="#106a80"/>
<rect x="637.67" y="315.5" width="6.8" height="38.1" fill="#e4c412"/>
<rect x="637.67" y="310.5" width="6.8" height="4.9" fill="#20acc4"/>
<rect x="637.67" y="293.2" width="6.8" height="17.3" fill="#c81c98"/>
<rect x="637.67" y="277.1" width="6.8" height="16.1" fill="#26c44e"/>
<rect x="637.67" y="269.7" width="6.8" height="7.4" fill="#6a3c8c"/>
<rect x="637.67" y="267.2" width="6.8" height="2.5" fill="#c4a40c"/>
<rect x="646.75" y="283.3" width="6.8" height="70.3" fill="#e4c412"/>
<rect x="646.75" y="272.2" width="6.8" height="11.1" fill="#c81c98"/>
<rect x="646.75" y="248.7" width="6.8" height="23.5" fill="#26c44e"/>
<rect x="646.75" y="237.6" width="6.8" height="11.1" fill="#6a3c8c"/>
<rect x="655.84" y="288.3" width="6.8" height="65.3" fill="#e4c412"/>
<rect x="655.84" y="284.6" width="6.8" height="3.7" fill="#20acc4"/>
<rect x="655.84" y="271.0" width="6.8" height="13.6" fill="#c81c98"/>
<rect x="655.84" y="233.9" width="6.8" height="37.1" fill="#26c44e"/>
<rect x="655.84" y="353.6" width="6.8" height="2.0" fill="#c4a40c"/>
<rect x="664.92" y="284.6" width="6.8" height="69.0" fill="#e4c412"/>
<rect x="664.92" y="269.7" width="6.8" height="14.8" fill="#c81c98"/>
<rect x="664.92" y="191.8" width="6.8" height="77.9" fill="#26c44e"/>
<rect x="664.92" y="188.1" width="6.8" height="3.7" fill="#106a80"/>
<rect x="674.01" y="280.9" width="6.8" height="72.7" fill="#e4c412"/>
<rect x="674.01" y="275.9" width="6.8" height="4.9" fill="#c4a40c"/>
<rect x="674.01" y="271.0" width="6.8" height="4.9" fill="#ee8e22"/>
<rect x="674.01" y="257.4" width="6.8" height="13.6" fill="#c81c98"/>
<rect x="674.01" y="233.9" width="6.8" height="23.5" fill="#26c44e"/>
<rect x="674.01" y="225.2" width="6.8" height="8.7" fill="#6a3c8c"/>
<rect x="674.01" y="222.7" width="6.8" height="2.5" fill="#ee8e22"/>
<rect x="683.09" y="264.8" width="6.8" height="88.8" fill="#e4c412"/>
<rect x="683.09" y="262.3" width="6.8" height="2.5" fill="#ee8e22"/>
<rect x="683.09" y="245.0" width="6.8" height="17.3" fill="#c81c98"/>
<rect x="683.09" y="183.1" width="6.8" height="61.9" fill="#26c44e"/>
<rect x="692.18" y="275.9" width="6.8" height="77.7" fill="#e4c412"/>
<rect x="692.18" y="272.2" width="6.8" height="3.7" fill="#20acc4"/>
<rect x="692.18" y="257.4" width="6.8" height="14.8" fill="#c81c98"/>
<rect x="692.18" y="252.4" width="6.8" height="4.9" fill="#26c44e"/>
<rect x="692.18" y="247.5" width="6.8" height="4.9" fill="#6a3c8c"/>
<rect x="701.26" y="259.8" width="6.8" height="93.8" fill="#e4c412"/>
<rect x="701.26" y="240.0" width="6.8" height="19.8" fill="#c81c98"/>
<rect x="701.26" y="227.7" width="6.8" height="12.4" fill="#26c44e"/>
<rect x="701.26" y="224.0" width="6.8" height="3.7" fill="#ee8e22"/>
<rect x="710.35" y="258.6" width="6.8" height="95.0" fill="#e4c412"/>
<rect x="710.35" y="256.1" width="6.8" height="2.5" fill="#20acc4"/>
<rect x="710.35" y="235.1" width="6.8" height="21.0" fill="#c81c98"/>
<rect x="710.35" y="185.6" width="6.8" height="49.5" fill="#26c44e"/>
<rect x="710.35" y="180.7" width="6.8" height="4.9" fill="#106a80"/>
<rect x="719.43" y="256.1" width="6.8" height="97.5" fill="#e4c412"/>
<rect x="719.43" y="236.3" width="6.8" height="19.8" fill="#26c44e"/>
<rect x="719.43" y="353.6" width="6.8" height="13.8" fill="#c81c98"/>
<rect x="728.52" y="267.2" width="6.8" height="86.4" fill="#e4c412"/>
<rect x="728.52" y="257.4" width="6.8" height="9.9" fill="#106a80"/>
<rect x="728.52" y="245.0" width="6.8" height="12.4" fill="#6a3c8c"/>
<rect x="728.52" y="222.7" width="6.8" height="22.3" fill="#c4a40c"/>
<rect x="728.52" y="217.8" width="6.8" height="4.9" fill="#106a80"/>
<rect x="728.52" y="353.6" width="6.8" height="17.8" fill="#c81c98"/>
<rect x="737.6" y="251.2" width="6.8" height="102.4" fill="#e4c412"/>
<rect x="737.6" y="247.5" width="6.8" height="3.7" fill="#6a3c8c"/>
<rect x="737.6" y="233.9" width="6.8" height="13.6" fill="#26c44e"/>
<rect x="737.6" y="230.1" width="6.8" height="3.7" fill="#106a80"/>
<rect x="737.6" y="353.6" width="6.8" height="2.0" fill="#106a80"/>
<rect x="746.69" y="257.4" width="6.8" height="96.2" fill="#e4c412"/>
<rect x="746.69" y="253.6" width="6.8" height="3.7" fill="#20acc4"/>
<rect x="746.69" y="231.4" width="6.8" height="22.3" fill="#26c44e"/>
<rect x="746.69" y="225.2" width="6.8" height="6.2" fill="#6a3c8c"/>
<rect x="746.69" y="217.8" width="6.8" height="7.4" fill="#c4a40c"/>
<rect x="746.69" y="214.1" width="6.8" height="3.7" fill="#106a80"/>
<rect x="746.69" y="353.6" width="6.8" height="11.4" fill="#c81c98"/>
<rect x="755.77" y="253.6" width="6.8" height="100.0" fill="#e4c412"/>
<rect x="755.77" y="249.9" width="6.8" height="3.7" fill="#20acc4"/>
<rect x="755.77" y="225.2" width="6.8" height="24.7" fill="#26c44e"/>
<rect x="755.77" y="217.8" width="6.8" height="7.4" fill="#6a3c8c"/>
<rect x="755.77" y="204.2" width="6.8" height="13.6" fill="#106a80"/>
<rect x="755.77" y="353.6" width="6.8" height="11.4" fill="#c81c98"/>
<rect x="764.86" y="277.1" width="6.8" height="76.5" fill="#e4c412"/>
<rect x="764.86" y="253.6" width="6.8" height="23.5" fill="#26c44e"/>
<rect x="764.86" y="246.2" width="6.8" height="7.4" fill="#106a80"/>
<rect x="764.86" y="353.6" width="6.8" height="14.8" fill="#c81c98"/>
<rect x="773.94" y="293.2" width="6.8" height="60.4" fill="#e4c412"/>
<rect x="773.94" y="290.8" width="6.8" height="2.5" fill="#20acc4"/>
<rect x="773.94" y="275.9" width="6.8" height="14.8" fill="#26c44e"/>
<rect x="773.94" y="269.7" width="6.8" height="6.2" fill="#6a3c8c"/>
<rect x="773.94" y="254.9" width="6.8" height="14.8" fill="#106a80"/>
<rect x="773.94" y="353.6" width="6.8" height="2.7" fill="#6a3c8c"/>
<rect x="783.03" y="284.6" width="6.8" height="69.0" fill="#e4c412"/>
<rect x="783.03" y="278.4" width="6.8" height="6.2" fill="#26c44e"/>
<rect x="783.03" y="272.2" width="6.8" height="6.2" fill="#106a80"/>
<rect x="783.03" y="353.6" width="6.8" height="5.2" fill="#ee8e22"/>
<rect x="783.03" y="358.8" width="6.8" height="2.5" fill="#e4c412"/>
<rect x="792.11" y="291.2" width="6.8" height="62.4" fill="#e4c412"/>
<rect x="792.11" y="287.5" width="6.8" height="3.7" fill="#ee8e22"/>
<rect x="792.11" y="272.7" width="6.8" height="14.8" fill="#26c44e"/>
<rect x="792.11" y="265.3" width="6.8" height="7.4" fill="#106a80"/>
<rect x="792.11" y="353.6" width="6.8" height="5.7" fill="#c4a40c"/>
<rect x="801.2" y="290.0" width="6.8" height="63.6" fill="#e4c412"/>
<rect x="801.2" y="287.0" width="6.8" height="3.0" fill="#20acc4"/>
<rect x="801.2" y="281.4" width="6.8" height="5.7" fill="#ee8e22"/>
<rect x="801.2" y="262.8" width="6.8" height="18.6" fill="#26c44e"/>
<rect x="801.2" y="249.2" width="6.8" height="13.6" fill="#c4a40c"/>
<rect x="801.2" y="353.6" width="6.8" height="4.4" fill="#106a80"/>
<rect x="810.28" y="309.8" width="6.8" height="43.8" fill="#e4c412"/>
<rect x="810.28" y="307.3" width="6.8" height="2.5" fill="#20acc4"/>
<rect x="810.28" y="270.2" width="6.8" height="37.1" fill="#26c44e"/>
<rect x="810.28" y="353.6" width="6.8" height="4.4" fill="#c81c98"/>
<rect x="819.37" y="269.0" width="6.8" height="84.6" fill="#e4c412"/>
<rect x="819.37" y="262.8" width="6.8" height="6.2" fill="#c81c98"/>
<rect x="819.37" y="235.6" width="6.8" height="27.2" fill="#26c44e"/>
<rect x="828.45" y="306.1" width="6.8" height="47.5" fill="#e4c412"/>
<rect x="828.45" y="299.9" width="6.8" height="6.2" fill="#c81c98"/>
<rect x="828.45" y="278.9" width="6.8" height="21.0" fill="#26c44e"/>
<rect x="837.54" y="290.0" width="6.8" height="63.6" fill="#e4c412"/>
<rect x="837.54" y="277.6" width="6.8" height="12.4" fill="#c81c98"/>
<rect x="837.54" y="250.4" width="6.8" height="27.2" fill="#26c44e"/>
<rect x="846.62" y="295.0" width="6.8" height="58.6" fill="#e4c412"/>
<rect x="846.62" y="283.8" width="6.8" height="11.1" fill="#c81c98"/>
<rect x="846.62" y="280.1" width="6.8" height="3.7" fill="#26c44e"/>
<rect x="846.62" y="267.7" width="6.8" height="12.4" fill="#6a3c8c"/>
<rect x="846.62" y="265.3" width="6.8" height="2.5" fill="#ee8e22"/>
<rect x="855.71" y="272.7" width="6.8" height="80.9" fill="#e4c412"/>
<rect x="855.71" y="266.5" width="6.8" height="6.2" fill="#20acc4"/>
<rect x="855.71" y="250.4" width="6.8" height="16.1" fill="#c81c98"/>
<rect x="855.71" y="212.1" width="6.8" height="38.3" fill="#26c44e"/>
<rect x="864.79" y="293.7" width="6.8" height="59.9" fill="#e4c412"/>
<rect x="864.79" y="290.0" width="6.8" height="3.7" fill="#c81c98"/>
<rect x="864.79" y="259.1" width="6.8" height="30.9" fill="#26c44e"/>
<rect x="864.79" y="255.4" width="6.8" height="3.7" fill="#6a3c8c"/>
<rect x="864.79" y="250.4" width="6.8" height="4.9" fill="#c4a40c"/>
<rect x="864.79" y="353.6" width="6.8" height="2.0" fill="#106a80"/>
<rect x="873.88" y="288.8" width="6.8" height="64.8" fill="#e4c412"/>
<rect x="873.88" y="285.1" width="6.8" height="3.7" fill="#ee8e22"/>
<rect x="873.88" y="272.7" width="6.8" height="12.4" fill="#c81c98"/>
<rect x="873.88" y="233.1" width="6.8" height="39.6" fill="#26c44e"/>
<rect x="882.96" y="307.3" width="6.8" height="46.3" fill="#e4c412"/>
<rect x="882.96" y="304.9" width="6.8" height="2.5" fill="#20acc4"/>
<rect x="882.96" y="295.0" width="6.8" height="9.9" fill="#c81c98"/>
<rect x="882.96" y="273.9" width="6.8" height="21.0" fill="#26c44e"/>
<rect x="882.96" y="270.2" width="6.8" height="3.7" fill="#6a3c8c"/>
<rect x="882.96" y="266.5" width="6.8" height="3.7" fill="#ee8e22"/>
<rect x="882.96" y="353.6" width="6.8" height="4.4" fill="#ee8e22"/>
<rect x="892.05" y="303.6" width="6.8" height="50.0" fill="#e4c412"/>
<rect x="892.05" y="290.0" width="6.8" height="13.6" fill="#c4a40c"/>
<rect x="892.05" y="353.6" width="6.8" height="8.2" fill="#26c44e"/>
<rect x="892.05" y="361.8" width="6.8" height="3.7" fill="#106a80"/>
<rect x="901.13" y="323.9" width="6.8" height="29.7" fill="#e4c412"/>
<rect x="901.13" y="321.4" width="6.8" height="2.5" fill="#20acc4"/>
<rect x="901.13" y="316.4" width="6.8" height="4.9" fill="#c81c98"/>
<rect x="901.13" y="312.7" width="6.8" height="3.7" fill="#26c44e"/>
<rect x="901.13" y="353.6" width="6.8" height="11.1" fill="#26c44e"/>
<rect x="910.22" y="304.1" width="6.8" height="49.5" fill="#e4c412"/>
<rect x="910.22" y="301.6" width="6.8" height="2.5" fill="#20acc4"/>
<rect x="910.22" y="289.2" width="6.8" height="12.4" fill="#26c44e"/>
<rect x="910.22" y="353.6" width="6.8" height="2.9" fill="#c81c98"/>
<rect x="919.3" y="288.0" width="6.8" height="65.6" fill="#e4c412"/>
<rect x="919.3" y="285.5" width="6.8" height="2.5" fill="#20acc4"/>
<rect x="919.3" y="264.5" width="6.8" height="21.0" fill="#26c44e"/>
<rect x="919.3" y="259.5" width="6.8" height="4.9" fill="#c4a40c"/>
<rect x="919.3" y="353.6" width="6.8" height="2.4" fill="#c81c98"/>
<rect x="928.39" y="317.7" width="6.8" height="35.9" fill="#e4c412"/>
<rect x="928.39" y="314.0" width="6.8" height="3.7" fill="#20acc4"/>
<rect x="928.39" y="299.1" width="6.8" height="14.8" fill="#c81c98"/>
<rect x="928.39" y="271.9" width="6.8" height="27.2" fill="#26c44e"/>
<rect x="928.39" y="353.6" width="6.8" height="2.4" fill="#6a3c8c"/>
<rect x="937.47" y="300.4" width="6.8" height="53.2" fill="#e4c412"/>
<rect x="937.47" y="296.6" width="6.8" height="3.7" fill="#ee8e22"/>
<rect x="937.47" y="289.2" width="6.8" height="7.4" fill="#c81c98"/>
<rect x="937.47" y="278.1" width="6.8" height="11.1" fill="#26c44e"/>
<rect x="937.47" y="270.7" width="6.8" height="7.4" fill="#106a80"/>
<rect x="937.47" y="353.6" width="6.8" height="3.7" fill="#c4a40c"/>
<rect x="946.56" y="307.8" width="6.8" height="45.8" fill="#e4c412"/>
<rect x="946.56" y="304.1" width="6.8" height="3.7" fill="#20acc4"/>
<rect x="946.56" y="297.9" width="6.8" height="6.2" fill="#c81c98"/>
<rect x="946.56" y="288.0" width="6.8" height="9.9" fill="#26c44e"/>
<rect x="946.56" y="353.6" width="6.8" height="3.7" fill="#c4a40c"/>
<rect x="955.64" y="317.7" width="6.8" height="35.9" fill="#e4c412"/>
<rect x="955.64" y="310.2" width="6.8" height="7.4" fill="#c81c98"/>
<rect x="955.64" y="300.4" width="6.8" height="9.9" fill="#26c44e"/>
<rect x="955.64" y="294.2" width="6.8" height="6.2" fill="#c4a40c"/>
<rect x="955.64" y="353.6" width="6.8" height="1.9" fill="#106a80"/>
<rect x="964.73" y="302.9" width="6.8" height="50.7" fill="#e4c412"/>
<rect x="964.73" y="301.1" width="6.8" height="1.8" fill="#20acc4"/>
<rect x="964.73" y="238.5" width="6.8" height="62.5" fill="#26c44e"/>
<rect x="964.73" y="228.7" width="6.8" height="9.8" fill="#c4a40c"/>
<rect x="964.73" y="353.6" width="6.8" height="2.1" fill="#106a80"/>
<rect x="973.81" y="314.7" width="6.8" height="38.9" fill="#e4c412"/>
<rect x="973.81" y="312.0" width="6.8" height="2.7" fill="#20acc4"/>
<rect x="973.81" y="302.9" width="6.8" height="9.1" fill="#c81c98"/>
<rect x="973.81" y="296.5" width="6.8" height="6.4" fill="#6a3c8c"/>
<rect x="973.81" y="353.6" width="6.8" height="20.4" fill="#26c44e"/>
<rect x="982.9" y="308.3" width="6.8" height="45.3" fill="#e4c412"/>
<rect x="982.9" y="300.1" width="6.8" height="8.2" fill="#c4a40c"/>
<rect x="982.9" y="293.8" width="6.8" height="6.4" fill="#106a80"/>
<rect x="982.9" y="353.6" width="6.8" height="34.4" fill="#26c44e"/>
<rect x="991.98" y="308.3" width="6.8" height="45.3" fill="#e4c412"/>
<rect x="991.98" y="300.1" width="6.8" height="8.2" fill="#c81c98"/>
<rect x="991.98" y="289.2" width="6.8" height="10.9" fill="#6a3c8c"/>
<rect x="991.98" y="353.6" width="6.8" height="6.7" fill="#ee8e22"/>
<rect x="1001.07" y="321.1" width="6.8" height="32.5" fill="#e4c412"/>
<rect x="1001.07" y="318.4" width="6.8" height="2.7" fill="#20acc4"/>
<rect x="1001.07" y="312.9" width="6.8" height="5.5" fill="#6a3c8c"/>
<rect x="1001.07" y="353.6" width="6.8" height="3.0" fill="#26c44e"/>
<rect x="1001.07" y="356.6" width="6.8" height="3.6" fill="#6a3c8c"/>
<rect x="1010.15" y="331.1" width="6.8" height="22.5" fill="#e4c412"/>
<rect x="1010.15" y="328.4" width="6.8" height="2.7" fill="#20acc4"/>
<rect x="1010.15" y="314.7" width="6.8" height="13.7" fill="#c81c98"/>
<rect x="1010.15" y="308.3" width="6.8" height="6.4" fill="#26c44e"/>
<rect x="1010.15" y="305.6" width="6.8" height="2.7" fill="#ee8e22"/>
<rect x="1019.24" y="322.0" width="6.8" height="31.6" fill="#e4c412"/>
<rect x="1019.24" y="319.3" width="6.8" height="2.7" fill="#20acc4"/>
<rect x="1019.24" y="300.1" width="6.8" height="19.1" fill="#c81c98"/>
<rect x="1019.24" y="279.2" width="6.8" height="21.0" fill="#26c44e"/>
<rect x="1019.24" y="274.6" width="6.8" height="4.6" fill="#6a3c8c"/>
<rect x="1019.24" y="271.9" width="6.8" height="2.7" fill="#c4a40c"/>
<rect x="1028.32" y="294.7" width="6.8" height="58.9" fill="#e4c412"/>
<rect x="1028.32" y="270.1" width="6.8" height="24.6" fill="#26c44e"/>
<rect x="1028.32" y="266.4" width="6.8" height="3.6" fill="#106a80"/>
<rect x="1028.32" y="353.6" width="6.8" height="5.8" fill="#c81c98"/>
<rect x="1037.4" y="325.7" width="6.8" height="27.9" fill="#e4c412"/>
<rect x="1037.4" y="317.5" width="6.8" height="8.2" fill="#c81c98"/>
<rect x="1037.4" y="310.2" width="6.8" height="7.3" fill="#26c44e"/>
<rect x="1037.4" y="306.5" width="6.8" height="3.6" fill="#6a3c8c"/>
<rect x="1037.4" y="302.0" width="6.8" height="4.6" fill="#106a80"/>
<rect x="1046.49" y="299.2" width="6.8" height="54.4" fill="#e4c412"/>
<rect x="1046.49" y="291.9" width="6.8" height="7.3" fill="#c81c98"/>
<rect x="1046.49" y="279.2" width="6.8" height="12.8" fill="#26c44e"/>
<rect x="1046.49" y="256.4" width="6.8" height="22.8" fill="#6a3c8c"/>
<rect x="1046.49" y="353.6" width="6.8" height="14.0" fill="#c4a40c"/>
<rect x="1046.49" y="367.6" width="6.8" height="3.6" fill="#106a80"/>
<rect x="1055.58" y="323.8" width="6.8" height="29.8" fill="#e4c412"/>
<rect x="1055.58" y="320.2" width="6.8" height="3.6" fill="#20acc4"/>
<rect x="1055.58" y="311.1" width="6.8" height="9.1" fill="#c81c98"/>
<rect x="1055.58" y="279.2" width="6.8" height="31.9" fill="#26c44e"/>
<rect x="1055.58" y="275.5" width="6.8" height="3.6" fill="#6a3c8c"/>
<rect x="1055.58" y="271.9" width="6.8" height="3.6" fill="#ee8e22"/>
<rect x="1055.58" y="259.1" width="6.8" height="12.8" fill="#106a80"/>
<rect x="1064.66" y="321.1" width="6.8" height="32.5" fill="#e4c412"/>
<rect x="1064.66" y="318.4" width="6.8" height="2.7" fill="#20acc4"/>
<rect x="1064.66" y="303.8" width="6.8" height="14.6" fill="#c81c98"/>
<rect x="1064.66" y="293.8" width="6.8" height="10.0" fill="#26c44e"/>
<rect x="1064.66" y="291.9" width="6.8" height="1.8" fill="#c4a40c"/>
<rect x="1064.66" y="353.6" width="6.8" height="4.0" fill="#106a80"/>
<polyline points="14.2,284.3 23.3,280.7 32.4,282.2 41.5,306.5 50.5,290.0 59.6,313.0 68.7,307.2 77.8,289.3 86.9,288.6 96.0,289.3 105.1,289.3 114.1,361.7 123.2,317.3 132.3,311.2 141.4,305.1 150.5,314.4 159.6,279.3 168.6,300.8 177.7,282.2 186.8,313.0 195.9,291.5 205.0,276.4 214.1,296.5 223.2,292.9 232.2,310.1 241.3,287.2 250.4,304.4 259.5,302.9 268.6,310.1 277.7,300.8 286.8,303.7 295.8,303.7 304.9,289.3 314.0,299.4 323.1,300.8 332.2,305.1 341.3,285.8 350.3,313.7 359.4,290.8 368.5,291.5 377.6,289.3 386.7,290.0 395.8,288.6 404.9,291.5 413.9,303.7 423.0,271.4 432.1,295.1 441.2,372.0 450.3,438.3 459.4,361.6 468.5,289.0 477.5,214.7 486.6,311.2 495.7,347.1 504.8,329.8 513.9,295.1 523.0,331.0 532.0,342.2 541.1,306.3 550.2,292.7 559.3,248.1 568.4,275.4 577.5,254.9 586.6,264.8 595.6,332.8 604.7,310.5 613.8,253.6 622.9,256.1 632.0,269.7 641.1,263.5 650.2,233.9 659.2,230.1 668.3,186.8 677.4,220.2 686.5,180.7 695.6,243.7 704.7,225.2 713.7,184.4 722.8,233.9 731.9,238.8 741.0,225.2 750.1,225.2 759.2,212.8 768.3,259.8 777.3,249.9 786.4,274.7 795.5,270.2 804.6,254.1 813.7,267.7 822.8,231.9 831.9,275.2 840.9,244.2 850.0,264.0 859.1,208.4 868.2,245.5 877.3,230.6 886.4,264.0 895.4,299.9 904.5,310.2 913.6,281.8 922.7,263.2 931.8,269.4 940.9,274.4 950.0,285.5 959.0,294.2 968.1,236.0 977.2,291.8 986.3,329.3 995.4,285.6 1004.5,313.8 1013.6,302.9 1022.6,267.3 1031.7,271.0 1040.8,298.3 1049.9,289.2 1059.0,262.8 1068.1,291.9" fill="none" stroke="#ffffff" stroke-width="3.8" stroke-linejoin="round" stroke-linecap="round"/>
<line x1="10" y1="491" x2="1104" y2="491" stroke="#c8c8c0" stroke-width="1.6"/>
<line x1="1103" y1="150" x2="1103" y2="491" stroke="#c8c8c0" stroke-width="1.6"/>
<line x1="33.0" y1="491" x2="33.0" y2="497" stroke="#c8c8c0" stroke-width="1.3"/>
<line x1="60.2" y1="491" x2="60.2" y2="497" stroke="#c8c8c0" stroke-width="1.3"/>
<line x1="87.5" y1="491" x2="87.5" y2="497" stroke="#c8c8c0" stroke-width="1.3"/>
<line x1="114.7" y1="491" x2="114.7" y2="497" stroke="#c8c8c0" stroke-width="1.3"/>
<line x1="142.0" y1="491" x2="142.0" y2="497" stroke="#c8c8c0" stroke-width="1.3"/>
<line x1="169.2" y1="491" x2="169.2" y2="497" stroke="#c8c8c0" stroke-width="1.3"/>
<line x1="196.5" y1="491" x2="196.5" y2="497" stroke="#c8c8c0" stroke-width="1.3"/>
<line x1="223.8" y1="491" x2="223.8" y2="497" stroke="#c8c8c0" stroke-width="1.3"/>
<line x1="251.0" y1="491" x2="251.0" y2="497" stroke="#c8c8c0" stroke-width="1.3"/>
<line x1="278.3" y1="491" x2="278.3" y2="497" stroke="#c8c8c0" stroke-width="1.3"/>
<line x1="305.5" y1="491" x2="305.5" y2="497" stroke="#c8c8c0" stroke-width="1.3"/>
<line x1="332.8" y1="491" x2="332.8" y2="497" stroke="#c8c8c0" stroke-width="1.3"/>
<line x1="360.0" y1="491" x2="360.0" y2="497" stroke="#c8c8c0" stroke-width="1.3"/>
<line x1="387.3" y1="491" x2="387.3" y2="497" stroke="#c8c8c0" stroke-width="1.3"/>
<line x1="414.5" y1="491" x2="414.5" y2="497" stroke="#c8c8c0" stroke-width="1.3"/>
<line x1="441.8" y1="491" x2="441.8" y2="497" stroke="#c8c8c0" stroke-width="1.3"/>
<line x1="469.1" y1="491" x2="469.1" y2="497" stroke="#c8c8c0" stroke-width="1.3"/>
<line x1="496.3" y1="491" x2="496.3" y2="497" stroke="#c8c8c0" stroke-width="1.3"/>
<line x1="523.6" y1="491" x2="523.6" y2="497" stroke="#c8c8c0" stroke-width="1.3"/>
<line x1="550.8" y1="491" x2="550.8" y2="497" stroke="#c8c8c0" stroke-width="1.3"/>
<line x1="578.1" y1="491" x2="578.1" y2="497" stroke="#c8c8c0" stroke-width="1.3"/>
<line x1="605.3" y1="491" x2="605.3" y2="497" stroke="#c8c8c0" stroke-width="1.3"/>
<line x1="632.6" y1="491" x2="632.6" y2="497" stroke="#c8c8c0" stroke-width="1.3"/>
<line x1="659.8" y1="491" x2="659.8" y2="497" stroke="#c8c8c0" stroke-width="1.3"/>
<line x1="687.1" y1="491" x2="687.1" y2="497" stroke="#c8c8c0" stroke-width="1.3"/>
<line x1="714.3" y1="491" x2="714.3" y2="497" stroke="#c8c8c0" stroke-width="1.3"/>
<line x1="741.6" y1="491" x2="741.6" y2="497" stroke="#c8c8c0" stroke-width="1.3"/>
<line x1="768.9" y1="491" x2="768.9" y2="497" stroke="#c8c8c0" stroke-width="1.3"/>
<line x1="796.1" y1="491" x2="796.1" y2="497" stroke="#c8c8c0" stroke-width="1.3"/>
<line x1="823.4" y1="491" x2="823.4" y2="497" stroke="#c8c8c0" stroke-width="1.3"/>
<line x1="850.6" y1="491" x2="850.6" y2="497" stroke="#c8c8c0" stroke-width="1.3"/>
<line x1="877.9" y1="491" x2="877.9" y2="497" stroke="#c8c8c0" stroke-width="1.3"/>
<line x1="905.1" y1="491" x2="905.1" y2="497" stroke="#c8c8c0" stroke-width="1.3"/>
<line x1="932.4" y1="491" x2="932.4" y2="497" stroke="#c8c8c0" stroke-width="1.3"/>
<line x1="959.6" y1="491" x2="959.6" y2="497" stroke="#c8c8c0" stroke-width="1.3"/>
<line x1="986.9" y1="491" x2="986.9" y2="497" stroke="#c8c8c0" stroke-width="1.3"/>
<line x1="1014.2" y1="491" x2="1014.2" y2="497" stroke="#c8c8c0" stroke-width="1.3"/>
<line x1="1041.4" y1="491" x2="1041.4" y2="497" stroke="#c8c8c0" stroke-width="1.3"/>
<text x="48" y="512" font-size="17" fill="#c4c4bc" text-anchor="middle" textLength="38" lengthAdjust="spacingAndGlyphs" stroke="#c4c4bc" stroke-width="0.45">2016</text>
<text x="141" y="512" font-size="17" fill="#c4c4bc" text-anchor="middle" textLength="38" lengthAdjust="spacingAndGlyphs" stroke="#c4c4bc" stroke-width="0.45">2017</text>
<text x="250" y="512" font-size="17" fill="#c4c4bc" text-anchor="middle" textLength="38" lengthAdjust="spacingAndGlyphs" stroke="#c4c4bc" stroke-width="0.45">2018</text>
<text x="359" y="512" font-size="17" fill="#c4c4bc" text-anchor="middle" textLength="38" lengthAdjust="spacingAndGlyphs" stroke="#c4c4bc" stroke-width="0.45">2019</text>
<text x="468" y="512" font-size="17" fill="#c4c4bc" text-anchor="middle" textLength="38" lengthAdjust="spacingAndGlyphs" stroke="#c4c4bc" stroke-width="0.45">2020</text>
<text x="577" y="512" font-size="17" fill="#c4c4bc" text-anchor="middle" textLength="38" lengthAdjust="spacingAndGlyphs" stroke="#c4c4bc" stroke-width="0.45">2021</text>
<text x="686" y="512" font-size="17" fill="#c4c4bc" text-anchor="middle" textLength="38" lengthAdjust="spacingAndGlyphs" stroke="#c4c4bc" stroke-width="0.45">2022</text>
<text x="795" y="512" font-size="17" fill="#c4c4bc" text-anchor="middle" textLength="38" lengthAdjust="spacingAndGlyphs" stroke="#c4c4bc" stroke-width="0.45">2023</text>
<text x="904" y="512" font-size="17" fill="#c4c4bc" text-anchor="middle" textLength="38" lengthAdjust="spacingAndGlyphs" stroke="#c4c4bc" stroke-width="0.45">2024</text>
<text x="1005" y="512" font-size="17" fill="#c4c4bc" text-anchor="middle" textLength="38" lengthAdjust="spacingAndGlyphs" stroke="#c4c4bc" stroke-width="0.45">2025</text>
<text x="1058" y="512" font-size="17" fill="#c4c4bc" textLength="38" lengthAdjust="spacingAndGlyphs" stroke="#c4c4bc" stroke-width="0.45">2026</text>
<line x1="87.5" y1="500.5" x2="87.5" y2="513.5" stroke="#c4c4bc" stroke-width="1.5"/>
<line x1="196.5" y1="500.5" x2="196.5" y2="513.5" stroke="#c4c4bc" stroke-width="1.5"/>
<line x1="305.5" y1="500.5" x2="305.5" y2="513.5" stroke="#c4c4bc" stroke-width="1.5"/>
<line x1="414.5" y1="500.5" x2="414.5" y2="513.5" stroke="#c4c4bc" stroke-width="1.5"/>
<line x1="523.6" y1="500.5" x2="523.6" y2="513.5" stroke="#c4c4bc" stroke-width="1.5"/>
<line x1="632.6" y1="500.5" x2="632.6" y2="513.5" stroke="#c4c4bc" stroke-width="1.5"/>
<line x1="741.6" y1="500.5" x2="741.6" y2="513.5" stroke="#c4c4bc" stroke-width="1.5"/>
<line x1="850.6" y1="500.5" x2="850.6" y2="513.5" stroke="#c4c4bc" stroke-width="1.5"/>
<line x1="959.6" y1="500.5" x2="959.6" y2="513.5" stroke="#c4c4bc" stroke-width="1.5"/>
<line x1="1050.5" y1="500.5" x2="1050.5" y2="513.5" stroke="#c4c4bc" stroke-width="1.5"/>
<path d="M1103 162.8 L1111 166.3 L1103 169.8 Z" fill="#d8d8d0"/>
<text x="1113" y="172.5" font-size="17.5" fill="#c4c4bc" textLength="42" lengthAdjust="spacingAndGlyphs" stroke="#c4c4bc" stroke-width="0.45">0.800</text>
<path d="M1103 209.7 L1111 213.2 L1103 216.7 Z" fill="#d8d8d0"/>
<text x="1113" y="219.4" font-size="17.5" fill="#c4c4bc" textLength="42" lengthAdjust="spacingAndGlyphs" stroke="#c4c4bc" stroke-width="0.45">0.600</text>
<path d="M1103 256.5 L1111 260.0 L1103 263.5 Z" fill="#d8d8d0"/>
<text x="1113" y="266.2" font-size="17.5" fill="#c4c4bc" textLength="42" lengthAdjust="spacingAndGlyphs" stroke="#c4c4bc" stroke-width="0.45">0.400</text>
<path d="M1103 397.0 L1111 400.5 L1103 404.0 Z" fill="#d8d8d0"/>
<text x="1114.5" y="406.7" font-size="17.5" fill="#c4c4bc" textLength="49.5" lengthAdjust="spacingAndGlyphs" stroke="#c4c4bc" stroke-width="0.45">-0.200</text>
<path d="M1103 443.9 L1111 447.4 L1103 450.9 Z" fill="#d8d8d0"/>
<text x="1114.5" y="453.6" font-size="17.5" fill="#c4c4bc" textLength="49.5" lengthAdjust="spacingAndGlyphs" stroke="#c4c4bc" stroke-width="0.45">-0.400</text>
<line x1="1103" y1="189.8" x2="1108" y2="189.8" stroke="#c8c8c0" stroke-width="1.3"/>
<line x1="1103" y1="236.6" x2="1108" y2="236.6" stroke="#c8c8c0" stroke-width="1.3"/>
<line x1="1103" y1="283.4" x2="1108" y2="283.4" stroke="#c8c8c0" stroke-width="1.3"/>
<line x1="1103" y1="330.3" x2="1108" y2="330.3" stroke="#c8c8c0" stroke-width="1.3"/>
<line x1="1103" y1="377.1" x2="1108" y2="377.1" stroke="#c8c8c0" stroke-width="1.3"/>
<line x1="1103" y1="424.0" x2="1108" y2="424.0" stroke="#c8c8c0" stroke-width="1.3"/>
<line x1="1103" y1="470.8" x2="1108" y2="470.8" stroke="#c8c8c0" stroke-width="1.3"/>
<path d="M1104.5 354.0 L1112 341.5 L1172.5 341.5 L1172.5 366.5 L1112 366.5 Z" fill="#8a5a44"/>
<path d="M1104.5 355.8 L1112 343.3 L1172.5 343.3 L1172.5 368.3 L1112 368.3 Z" fill="#175a6e"/>
<text x="1117" y="362.3" font-size="17.5" fill="#ffffff" textLength="49" lengthAdjust="spacingAndGlyphs" stroke="#ffffff" stroke-width="0.45">-0.004</text>
<path d="M1104.5 320.5 L1112 308.0 L1172.5 308.0 L1172.5 333.0 L1112 333.0 Z" fill="#b0a838"/>
<path d="M1104.5 317.8 L1112 305.0 L1172.5 305.0 L1172.5 330.5 L1112 330.5 Z" fill="#1fa8bc"/>
<text x="1114.5" y="327" font-size="17.5" fill="#0d6878" textLength="42" lengthAdjust="spacingAndGlyphs" stroke="#0d6878" stroke-width="0.45">0.013</text>
<path d="M1104.5 300.5 L1112 288.0 L1172.5 288.0 L1172.5 313.0 L1112 313.0 Z" fill="#c41a98"/>
<path d="M1104.5 295.8 L1112 283.0 L1172.5 283.0 L1172.5 308.5 L1112 308.5 Z" fill="#28c050"/>
<path d="M1104.5 290.9 L1112 277.7 L1174.5 277.7 L1174.5 304.2 L1112 304.2 Z" fill="#fffff6"/>
<text x="1114.5" y="297.5" font-size="17.5" fill="#5a5a54" textLength="42.5" lengthAdjust="spacingAndGlyphs" stroke="#5a5a54" stroke-width="0.45">0.268</text>
<text transform="translate(1183,193) rotate(90)" font-size="22.5" fill="#f0f0e8" textLength="254" lengthAdjust="spacingAndGlyphs">Percent/Percentage Point</text>
<text x="221" y="215.2" font-size="32.5" fill="#ffffff" textLength="191" lengthAdjust="spacingAndGlyphs" font-weight="bold" stroke="#ffffff" stroke-width="0.5">CPI, Serviços</text>
<defs><linearGradient id="hg" x1="0" y1="0" x2="0" y2="1"><stop offset="0" stop-color="#45463a"/><stop offset="1" stop-color="#24261c"/></linearGradient><linearGradient id="hg2" x1="0" y1="0" x2="0" y2="1"><stop offset="0" stop-color="#34362b"/><stop offset="1" stop-color="#23251b"/></linearGradient></defs>
<rect x="10" y="519" width="1203" height="23.5" fill="#1f2117"/>
<text x="13" y="538.5" font-size="20" fill="#f0f0e8" textLength="93" lengthAdjust="spacingAndGlyphs" stroke="#f0f0e8" stroke-width="0.45">Data Table</text>
<rect x="511.5" y="520" width="149" height="21.5" fill="#3b3d32"/>
<rect x="517" y="524" width="13" height="13" fill="#2e97f2"/>
<path d="M520 531 L523 534 L528.5 527.5" fill="none" stroke="#0a1630" stroke-width="2.2"/>
<text x="538" y="538" font-size="18.5" fill="#e4e4dc" textLength="116" lengthAdjust="spacingAndGlyphs" stroke="#e4e4dc" stroke-width="0.45">Show Weights</text>
<rect x="664.5" y="520" width="162" height="21.5" fill="#3b3d32"/>
<rect x="670" y="524" width="13" height="13" fill="#2e97f2"/>
<path d="M673 531 L676 534 L681.5 527.5" fill="none" stroke="#0a1630" stroke-width="2.2"/>
<text x="691" y="538" font-size="18.5" fill="#e4e4dc" textLength="131" lengthAdjust="spacingAndGlyphs" stroke="#e4e4dc" stroke-width="0.45">Show Heat Map</text>
<rect x="830.5" y="520" width="148" height="21.5" fill="#3b3d32"/>
<rect x="836" y="524" width="13" height="13" fill="#2e97f2"/>
<path d="M839 531 L842 534 L847.5 527.5" fill="none" stroke="#0a1630" stroke-width="2.2"/>
<text x="858" y="538" font-size="18.5" fill="#e4e4dc" textLength="115" lengthAdjust="spacingAndGlyphs" stroke="#e4e4dc" stroke-width="0.45">Show Tickers</text>
<rect x="981" y="520" width="115" height="21.5" fill="#3b3d32"/>
<path d="M988 530 L994.5 524.5 L1001 530 M988 536 L994.5 530.5 L1001 536" fill="none" stroke="#e4e4dc" stroke-width="2.2"/>
<text x="1007" y="538" font-size="17.5" fill="#e4e4dc" textLength="83" lengthAdjust="spacingAndGlyphs" stroke="#e4e4dc" stroke-width="0.45">Show More</text>
<rect x="1098" y="520" width="115" height="21.5" fill="#3b3d32"/>
<path d="M1104 525 L1110.5 530.5 L1117 525 M1104 531 L1110.5 536.5 L1117 531" fill="none" stroke="#e4e4dc" stroke-width="2.2"/>
<text x="1124" y="538" font-size="17.5" fill="#e4e4dc" textLength="83" lengthAdjust="spacingAndGlyphs" stroke="#e4e4dc" stroke-width="0.45">Hide Table</text>
<rect x="10" y="542.5" width="547" height="24.5" fill="url(#hg)"/>
<rect x="557" y="542.5" width="656" height="24.5" fill="url(#hg2)"/>
<text x="64.5" y="560.5" font-size="20" fill="#e0e0d8" textLength="50.5" lengthAdjust="spacingAndGlyphs" stroke="#e0e0d8" stroke-width="0.45">Series</text>
<text x="374" y="560.5" font-size="20" fill="#e0e0d8" textLength="49" lengthAdjust="spacingAndGlyphs" stroke="#e0e0d8" stroke-width="0.45">Ticker</text>
<rect x="10" y="566.8" width="547" height="201.20000000000005" fill="#050505"/>
<rect x="1133" y="566.8" width="80" height="201.20000000000005" fill="#030303"/>
<clipPath id="hm"><rect x="557.5" y="540" width="600" height="228"/></clipPath>
<g clip-path="url(#hm)">
<text x="573.3" y="560.5" font-size="20" fill="#e0e0d8" text-anchor="end" textLength="18.5" lengthAdjust="spacingAndGlyphs" stroke="#e0e0d8" stroke-width="0.45">25</text>
</g>
<rect x="557.5" y="566.8" width="18.8" height="25.0" fill="#f6c09c"/>
<rect x="557.5" y="591.5" width="18.8" height="25.0" fill="#f8c8a8"/>
<rect x="557.5" y="616.2" width="18.8" height="25.0" fill="#f4b080"/>
<rect x="557.5" y="640.9" width="18.8" height="25.0" fill="#fdf0ec"/>
<rect x="557.5" y="665.6" width="18.8" height="25.0" fill="#fce6dc"/>
<rect x="557.5" y="690.3" width="18.8" height="25.0" fill="#e6e6f4"/>
<rect x="557.5" y="715.0" width="18.8" height="25.0" fill="#f8c098"/>
<rect x="557.5" y="739.7" width="18.8" height="25.0" fill="#fad0b4"/>

<text x="652.5" y="560.5" font-size="20" fill="#e0e0d8" text-anchor="end" textLength="58.5" lengthAdjust="spacingAndGlyphs" stroke="#e0e0d8" stroke-width="0.45">Jun-25</text>

<rect x="576.3" y="566.8" width="79.2" height="25.0" fill="#f5bd98"/>
<rect x="576.3" y="591.5" width="79.2" height="25.0" fill="#fad4bc"/>
<rect x="576.3" y="616.2" width="79.2" height="25.0" fill="#e88850"/>
<rect x="576.3" y="640.9" width="79.2" height="25.0" fill="#fdeee8"/>
<rect x="576.3" y="665.6" width="79.2" height="25.0" fill="#fce2d4"/>
<rect x="576.3" y="690.3" width="79.2" height="25.0" fill="#fce4d8"/>
<rect x="576.3" y="715.0" width="79.2" height="25.0" fill="#f4b080"/>
<rect x="576.3" y="739.7" width="79.2" height="25.0" fill="#f8c4a0"/>

<text x="732" y="560.5" font-size="20" fill="#e0e0d8" text-anchor="end" textLength="54" lengthAdjust="spacingAndGlyphs" stroke="#e0e0d8" stroke-width="0.45">Jul-25</text>

<rect x="655.5" y="566.8" width="79.5" height="25.0" fill="#f0a064"/>
<rect x="655.5" y="591.5" width="79.5" height="25.0" fill="#f8c4a0"/>
<rect x="655.5" y="616.2" width="79.5" height="25.0" fill="#c02a18"/>
<rect x="655.5" y="640.9" width="79.5" height="25.0" fill="#f8c4a0"/>
<rect x="655.5" y="665.6" width="79.5" height="25.0" fill="#fad8c4"/>
<rect x="655.5" y="690.3" width="79.5" height="25.0" fill="#fad8c4"/>
<rect x="655.5" y="715.0" width="79.5" height="25.0" fill="#f6b890"/>
<rect x="655.5" y="739.7" width="79.5" height="25.0" fill="#f4b888"/>

<text x="811.6" y="560.5" font-size="20" fill="#e0e0d8" text-anchor="end" textLength="60.5" lengthAdjust="spacingAndGlyphs" stroke="#e0e0d8" stroke-width="0.45">Aug-25</text>

<rect x="735" y="566.8" width="79.6" height="25.0" fill="#f1a66c"/>
<rect x="735" y="591.5" width="79.6" height="25.0" fill="#e88448"/>
<rect x="735" y="616.2" width="79.6" height="25.0" fill="#c8c8ec"/>
<rect x="735" y="640.9" width="79.6" height="25.0" fill="#f4b080"/>
<rect x="735" y="665.6" width="79.6" height="25.0" fill="#fdece4"/>
<rect x="735" y="690.3" width="79.6" height="25.0" fill="#d0d4ec"/>
<rect x="735" y="715.0" width="79.6" height="25.0" fill="#fce4d8"/>
<rect x="735" y="739.7" width="79.6" height="25.0" fill="#f8c4a0"/>

<text x="890.8" y="560.5" font-size="20" fill="#e0e0d8" text-anchor="end" textLength="59" lengthAdjust="spacingAndGlyphs" stroke="#e0e0d8" stroke-width="0.45">Sep-25</text>

<rect x="814.6" y="566.8" width="79.2" height="25.0" fill="#f8c8a8"/>
<rect x="814.6" y="591.5" width="79.2" height="25.0" fill="#f8c8a8"/>
<rect x="814.6" y="616.2" width="79.2" height="25.0" fill="#fad8c4"/>
<rect x="814.6" y="640.9" width="79.2" height="25.0" fill="#fbece6"/>
<rect x="814.6" y="665.6" width="79.2" height="25.0" fill="#fbf0ee"/>
<rect x="814.6" y="690.3" width="79.2" height="25.0" fill="#f8d4bc"/>
<rect x="814.6" y="715.0" width="79.2" height="25.0" fill="#fcdccc"/>
<rect x="814.6" y="739.7" width="79.2" height="25.0" fill="#fce8dc"/>

<text x="970.2" y="560.5" font-size="20" fill="#e0e0d8" text-anchor="end" textLength="58.5" lengthAdjust="spacingAndGlyphs" stroke="#e0e0d8" stroke-width="0.45">Dec-25</text>

<rect x="893.8" y="566.8" width="79.4" height="25.0" fill="#f4b48c"/>
<rect x="893.8" y="591.5" width="79.4" height="25.0" fill="#f0a468"/>
<rect x="893.8" y="616.2" width="79.4" height="25.0" fill="#f8c6a4"/>
<rect x="893.8" y="640.9" width="79.4" height="25.0" fill="#fbe8e0"/>
<rect x="893.8" y="665.6" width="79.4" height="25.0" fill="#acace0"/>
<rect x="893.8" y="690.3" width="79.4" height="25.0" fill="#a80a08"/>
<rect x="893.8" y="715.0" width="79.4" height="25.0" fill="#b4b6e2"/>
<rect x="893.8" y="739.7" width="79.4" height="25.0" fill="#f6bc94"/>

<text x="1050" y="560.5" font-size="20" fill="#e0e0d8" text-anchor="end" textLength="57" lengthAdjust="spacingAndGlyphs" stroke="#e0e0d8" stroke-width="0.45">Jan-26</text>

<rect x="973.2" y="566.8" width="79.8" height="25.0" fill="#f0a66c"/>
<rect x="973.2" y="591.5" width="79.8" height="25.0" fill="#f9ccb0"/>
<rect x="973.2" y="616.2" width="79.8" height="25.0" fill="#f8ceb2"/>
<rect x="973.2" y="640.9" width="79.8" height="25.0" fill="#f0a060"/>
<rect x="973.2" y="665.6" width="79.8" height="25.0" fill="#f9ccb0"/>
<rect x="973.2" y="690.3" width="79.8" height="25.0" fill="#fad6c4"/>
<rect x="973.2" y="715.0" width="79.8" height="25.0" fill="#a00808"/>
<rect x="973.2" y="739.7" width="79.8" height="25.0" fill="#f0a468"/>

<text x="1129.8" y="560.5" font-size="20" fill="#e0e0d8" text-anchor="end" textLength="59.5" lengthAdjust="spacingAndGlyphs" stroke="#e0e0d8" stroke-width="0.45">Feb-26</text>

<rect x="1053" y="566.8" width="79.8" height="25.0" fill="#f6b890"/>
<rect x="1053" y="591.5" width="79.8" height="25.0" fill="#f8c4a0"/>
<rect x="1053" y="616.2" width="79.8" height="25.0" fill="#e07838"/>
<rect x="1053" y="640.9" width="79.8" height="25.0" fill="#fceee8"/>
<rect x="1053" y="665.6" width="79.8" height="25.0" fill="#fad4be"/>
<rect x="1053" y="690.3" width="79.8" height="25.0" fill="#e0e0f2"/>
<rect x="1053" y="715.0" width="79.8" height="25.0" fill="#c8cce8"/>
<rect x="1053" y="739.7" width="79.8" height="25.0" fill="#f0a468"/>
<g clip-path="url(#hm)">
<text x="573.8" y="586.1" font-size="20" fill="#33281f" text-anchor="end" textLength="18.5" lengthAdjust="spacingAndGlyphs" stroke="#33281f" stroke-width="0.45">72</text>
<text x="573.8" y="610.8" font-size="20" fill="#33281f" text-anchor="end" textLength="18.5" lengthAdjust="spacingAndGlyphs" stroke="#33281f" stroke-width="0.45">49</text>
<text x="573.8" y="635.5" font-size="20" fill="#33281f" text-anchor="end" textLength="18.5" lengthAdjust="spacingAndGlyphs" stroke="#33281f" stroke-width="0.45">20</text>
<text x="573.8" y="660.2" font-size="20" fill="#33281f" text-anchor="end" textLength="18.5" lengthAdjust="spacingAndGlyphs" stroke="#33281f" stroke-width="0.45">21</text>
<text x="573.8" y="684.9" font-size="20" fill="#33281f" text-anchor="end" textLength="18.5" lengthAdjust="spacingAndGlyphs" stroke="#33281f" stroke-width="0.45">07</text>
<text x="573.8" y="709.6" font-size="20" fill="#33281f" text-anchor="end" textLength="18.5" lengthAdjust="spacingAndGlyphs" stroke="#33281f" stroke-width="0.45">06</text>
<text x="573.8" y="734.3" font-size="20" fill="#33281f" text-anchor="end" textLength="18.5" lengthAdjust="spacingAndGlyphs" stroke="#33281f" stroke-width="0.45">10</text>
<text x="573.8" y="759.0" font-size="20" fill="#33281f" text-anchor="end" textLength="18.5" lengthAdjust="spacingAndGlyphs" stroke="#33281f" stroke-width="0.45">04</text>
<text x="653.0" y="586.1" font-size="20" fill="#33281f" text-anchor="end" textLength="45.5" lengthAdjust="spacingAndGlyphs" stroke="#33281f" stroke-width="0.45">0.254</text>
<text x="653.0" y="610.8" font-size="20" fill="#33281f" text-anchor="end" textLength="45.5" lengthAdjust="spacingAndGlyphs" stroke="#33281f" stroke-width="0.45">0.103</text>
<text x="653.0" y="635.5" font-size="20" fill="#33281f" text-anchor="end" textLength="45.5" lengthAdjust="spacingAndGlyphs" stroke="#33281f" stroke-width="0.45">0.062</text>
<text x="653.0" y="660.2" font-size="20" fill="#33281f" text-anchor="end" textLength="45.5" lengthAdjust="spacingAndGlyphs" stroke="#33281f" stroke-width="0.45">0.016</text>
<text x="653.0" y="684.9" font-size="20" fill="#33281f" text-anchor="end" textLength="45.5" lengthAdjust="spacingAndGlyphs" stroke="#33281f" stroke-width="0.45">0.010</text>
<text x="653.0" y="709.6" font-size="20" fill="#33281f" text-anchor="end" textLength="45.5" lengthAdjust="spacingAndGlyphs" stroke="#33281f" stroke-width="0.45">0.013</text>
<text x="653.0" y="734.3" font-size="20" fill="#33281f" text-anchor="end" textLength="45.5" lengthAdjust="spacingAndGlyphs" stroke="#33281f" stroke-width="0.45">0.016</text>
<text x="653.0" y="759.0" font-size="20" fill="#33281f" text-anchor="end" textLength="45.5" lengthAdjust="spacingAndGlyphs" stroke="#33281f" stroke-width="0.45">0.007</text>
<text x="732.5" y="586.1" font-size="20" fill="#33281f" text-anchor="end" textLength="45.5" lengthAdjust="spacingAndGlyphs" stroke="#33281f" stroke-width="0.45">0.365</text>
<text x="732.5" y="610.8" font-size="20" fill="#33281f" text-anchor="end" textLength="45.5" lengthAdjust="spacingAndGlyphs" stroke="#33281f" stroke-width="0.45">0.136</text>
<text x="732.5" y="635.5" font-size="20" fill="#ffffff" text-anchor="end" textLength="45.5" lengthAdjust="spacingAndGlyphs" stroke="#ffffff" stroke-width="0.45">0.088</text>
<text x="732.5" y="660.2" font-size="20" fill="#33281f" text-anchor="end" textLength="45.5" lengthAdjust="spacingAndGlyphs" stroke="#33281f" stroke-width="0.45">0.081</text>
<text x="732.5" y="684.9" font-size="20" fill="#33281f" text-anchor="end" textLength="45.5" lengthAdjust="spacingAndGlyphs" stroke="#33281f" stroke-width="0.45">0.014</text>
<text x="732.5" y="709.6" font-size="20" fill="#33281f" text-anchor="end" textLength="45.5" lengthAdjust="spacingAndGlyphs" stroke="#33281f" stroke-width="0.45">0.023</text>
<text x="732.5" y="734.3" font-size="20" fill="#33281f" text-anchor="end" textLength="45.5" lengthAdjust="spacingAndGlyphs" stroke="#33281f" stroke-width="0.45">0.014</text>
<text x="732.5" y="759.0" font-size="20" fill="#33281f" text-anchor="end" textLength="45.5" lengthAdjust="spacingAndGlyphs" stroke="#33281f" stroke-width="0.45">0.008</text>
<text x="812.1" y="586.1" font-size="20" fill="#33281f" text-anchor="end" textLength="45.5" lengthAdjust="spacingAndGlyphs" stroke="#33281f" stroke-width="0.45">0.349</text>
<text x="812.1" y="610.8" font-size="20" fill="#33281f" text-anchor="end" textLength="45.5" lengthAdjust="spacingAndGlyphs" stroke="#33281f" stroke-width="0.45">0.255</text>
<text x="812.1" y="635.5" font-size="20" fill="#33281f" text-anchor="end" textLength="53" lengthAdjust="spacingAndGlyphs" stroke="#33281f" stroke-width="0.45">-0.015</text>
<text x="812.1" y="660.2" font-size="20" fill="#33281f" text-anchor="end" textLength="45.5" lengthAdjust="spacingAndGlyphs" stroke="#33281f" stroke-width="0.45">0.104</text>
<text x="812.1" y="684.9" font-size="20" fill="#33281f" text-anchor="end" textLength="45.5" lengthAdjust="spacingAndGlyphs" stroke="#33281f" stroke-width="0.45">0.005</text>
<text x="812.1" y="709.6" font-size="20" fill="#33281f" text-anchor="end" textLength="53" lengthAdjust="spacingAndGlyphs" stroke="#33281f" stroke-width="0.45">-0.009</text>
<text x="812.1" y="734.3" font-size="20" fill="#33281f" text-anchor="end" textLength="45.5" lengthAdjust="spacingAndGlyphs" stroke="#33281f" stroke-width="0.45">0.003</text>
<text x="812.1" y="759.0" font-size="20" fill="#33281f" text-anchor="end" textLength="45.5" lengthAdjust="spacingAndGlyphs" stroke="#33281f" stroke-width="0.45">0.007</text>
<text x="891.3" y="586.1" font-size="20" fill="#33281f" text-anchor="end" textLength="45.5" lengthAdjust="spacingAndGlyphs" stroke="#33281f" stroke-width="0.45">0.239</text>
<text x="891.3" y="610.8" font-size="20" fill="#33281f" text-anchor="end" textLength="45.5" lengthAdjust="spacingAndGlyphs" stroke="#33281f" stroke-width="0.45">0.120</text>
<text x="891.3" y="635.5" font-size="20" fill="#33281f" text-anchor="end" textLength="45.5" lengthAdjust="spacingAndGlyphs" stroke="#33281f" stroke-width="0.45">0.031</text>
<text x="891.3" y="660.2" font-size="20" fill="#33281f" text-anchor="end" textLength="45.5" lengthAdjust="spacingAndGlyphs" stroke="#33281f" stroke-width="0.45">0.029</text>
<text x="891.3" y="684.9" font-size="20" fill="#33281f" text-anchor="end" textLength="45.5" lengthAdjust="spacingAndGlyphs" stroke="#33281f" stroke-width="0.45">0.007</text>
<text x="891.3" y="709.6" font-size="20" fill="#33281f" text-anchor="end" textLength="45.5" lengthAdjust="spacingAndGlyphs" stroke="#33281f" stroke-width="0.45">0.023</text>
<text x="891.3" y="734.3" font-size="20" fill="#33281f" text-anchor="end" textLength="45.5" lengthAdjust="spacingAndGlyphs" stroke="#33281f" stroke-width="0.45">0.005</text>
<text x="891.3" y="759.0" font-size="20" fill="#33281f" text-anchor="end" textLength="45.5" lengthAdjust="spacingAndGlyphs" stroke="#33281f" stroke-width="0.45">0.003</text>
<text x="970.7" y="586.1" font-size="20" fill="#33281f" text-anchor="end" textLength="45.5" lengthAdjust="spacingAndGlyphs" stroke="#33281f" stroke-width="0.45">0.272</text>
<text x="970.7" y="610.8" font-size="20" fill="#33281f" text-anchor="end" textLength="45.5" lengthAdjust="spacingAndGlyphs" stroke="#33281f" stroke-width="0.45">0.224</text>
<text x="970.7" y="635.5" font-size="20" fill="#33281f" text-anchor="end" textLength="45.5" lengthAdjust="spacingAndGlyphs" stroke="#33281f" stroke-width="0.45">0.041</text>
<text x="970.7" y="660.2" font-size="20" fill="#33281f" text-anchor="end" textLength="45.5" lengthAdjust="spacingAndGlyphs" stroke="#33281f" stroke-width="0.45">0.043</text>
<text x="970.7" y="684.9" font-size="20" fill="#33281f" text-anchor="end" textLength="53" lengthAdjust="spacingAndGlyphs" stroke="#33281f" stroke-width="0.45">-0.066</text>
<text x="970.7" y="709.6" font-size="20" fill="#ffffff" text-anchor="end" textLength="45.5" lengthAdjust="spacingAndGlyphs" stroke="#ffffff" stroke-width="0.45">0.099</text>
<text x="970.7" y="734.3" font-size="20" fill="#33281f" text-anchor="end" textLength="53" lengthAdjust="spacingAndGlyphs" stroke="#33281f" stroke-width="0.45">-0.006</text>
<text x="970.7" y="759.0" font-size="20" fill="#33281f" text-anchor="end" textLength="45.5" lengthAdjust="spacingAndGlyphs" stroke="#33281f" stroke-width="0.45">0.008</text>
<text x="1050.5" y="586.1" font-size="20" fill="#33281f" text-anchor="end" textLength="45.5" lengthAdjust="spacingAndGlyphs" stroke="#33281f" stroke-width="0.45">0.388</text>
<text x="1050.5" y="610.8" font-size="20" fill="#33281f" text-anchor="end" textLength="45.5" lengthAdjust="spacingAndGlyphs" stroke="#33281f" stroke-width="0.45">0.129</text>
<text x="1050.5" y="635.5" font-size="20" fill="#33281f" text-anchor="end" textLength="45.5" lengthAdjust="spacingAndGlyphs" stroke="#33281f" stroke-width="0.45">0.037</text>
<text x="1050.5" y="660.2" font-size="20" fill="#33281f" text-anchor="end" textLength="45.5" lengthAdjust="spacingAndGlyphs" stroke="#33281f" stroke-width="0.45">0.141</text>
<text x="1050.5" y="684.9" font-size="20" fill="#33281f" text-anchor="end" textLength="45.5" lengthAdjust="spacingAndGlyphs" stroke="#33281f" stroke-width="0.45">0.033</text>
<text x="1050.5" y="709.6" font-size="20" fill="#33281f" text-anchor="end" textLength="45.5" lengthAdjust="spacingAndGlyphs" stroke="#33281f" stroke-width="0.45">0.020</text>
<text x="1050.5" y="734.3" font-size="20" fill="#ffffff" text-anchor="end" textLength="45.5" lengthAdjust="spacingAndGlyphs" stroke="#ffffff" stroke-width="0.45">0.042</text>
<text x="1050.5" y="759.0" font-size="20" fill="#33281f" text-anchor="end" textLength="45.5" lengthAdjust="spacingAndGlyphs" stroke="#33281f" stroke-width="0.45">0.013</text>
<text x="1130.3" y="586.1" font-size="20" fill="#33281f" text-anchor="end" textLength="45.5" lengthAdjust="spacingAndGlyphs" stroke="#33281f" stroke-width="0.45">0.268</text>
<text x="1130.3" y="610.8" font-size="20" fill="#33281f" text-anchor="end" textLength="45.5" lengthAdjust="spacingAndGlyphs" stroke="#33281f" stroke-width="0.45">0.136</text>
<text x="1130.3" y="635.5" font-size="20" fill="#33281f" text-anchor="end" textLength="45.5" lengthAdjust="spacingAndGlyphs" stroke="#33281f" stroke-width="0.45">0.070</text>
<text x="1130.3" y="660.2" font-size="20" fill="#33281f" text-anchor="end" textLength="45.5" lengthAdjust="spacingAndGlyphs" stroke="#33281f" stroke-width="0.45">0.025</text>
<text x="1130.3" y="684.9" font-size="20" fill="#33281f" text-anchor="end" textLength="45.5" lengthAdjust="spacingAndGlyphs" stroke="#33281f" stroke-width="0.45">0.021</text>
<text x="1130.3" y="709.6" font-size="20" fill="#33281f" text-anchor="end" textLength="53" lengthAdjust="spacingAndGlyphs" stroke="#33281f" stroke-width="0.45">-0.010</text>
<text x="1130.3" y="734.3" font-size="20" fill="#33281f" text-anchor="end" textLength="53" lengthAdjust="spacingAndGlyphs" stroke="#33281f" stroke-width="0.45">-0.004</text>
<text x="1130.3" y="759.0" font-size="20" fill="#33281f" text-anchor="end" textLength="45.5" lengthAdjust="spacingAndGlyphs" stroke="#33281f" stroke-width="0.45">0.013</text>
</g>
<line x1="557.5" y1="591.5" x2="1132.8" y2="591.5" stroke="#7a5a48" stroke-width="0.8" opacity="0.35"/>
<line x1="557.5" y1="616.2" x2="1132.8" y2="616.2" stroke="#7a5a48" stroke-width="0.8" opacity="0.35"/>
<line x1="557.5" y1="640.9" x2="1132.8" y2="640.9" stroke="#7a5a48" stroke-width="0.8" opacity="0.35"/>
<line x1="557.5" y1="665.6" x2="1132.8" y2="665.6" stroke="#7a5a48" stroke-width="0.8" opacity="0.35"/>
<line x1="557.5" y1="690.3" x2="1132.8" y2="690.3" stroke="#7a5a48" stroke-width="0.8" opacity="0.35"/>
<line x1="557.5" y1="715.0" x2="1132.8" y2="715.0" stroke="#7a5a48" stroke-width="0.8" opacity="0.35"/>
<line x1="557.5" y1="739.7" x2="1132.8" y2="739.7" stroke="#7a5a48" stroke-width="0.8" opacity="0.35"/>
<line x1="576.3" y1="542.5" x2="576.3" y2="764.3" stroke="#6a5040" stroke-width="1.2" opacity="0.55"/>
<line x1="655.5" y1="542.5" x2="655.5" y2="764.3" stroke="#6a5040" stroke-width="1.2" opacity="0.55"/>
<line x1="735" y1="542.5" x2="735" y2="764.3" stroke="#6a5040" stroke-width="1.2" opacity="0.55"/>
<line x1="814.6" y1="542.5" x2="814.6" y2="764.3" stroke="#6a5040" stroke-width="1.2" opacity="0.55"/>
<line x1="893.8" y1="542.5" x2="893.8" y2="764.3" stroke="#6a5040" stroke-width="1.2" opacity="0.55"/>
<line x1="973.2" y1="542.5" x2="973.2" y2="764.3" stroke="#6a5040" stroke-width="1.2" opacity="0.55"/>
<line x1="1053" y1="542.5" x2="1053" y2="764.3" stroke="#6a5040" stroke-width="1.2" opacity="0.55"/>
<text x="1141.5" y="560.5" font-size="20" fill="#e88a30" textLength="54" lengthAdjust="spacingAndGlyphs" stroke="#e88a30" stroke-width="0.45">Weight</text>
<path d="M1206.5 546.5 V562.5 M1201.8 557.5 L1206.5 563 L1211.2 557.5" fill="none" stroke="#e8e8e0" stroke-width="2"/>
<text x="1210" y="610.8" font-size="20" fill="#e6e49c" text-anchor="end" textLength="56" lengthAdjust="spacingAndGlyphs" stroke="#e6e49c" stroke-width="0.45">58.557</text>
<text x="1210" y="635.5" font-size="20" fill="#e6e49c" text-anchor="end" textLength="56" lengthAdjust="spacingAndGlyphs" stroke="#e6e49c" stroke-width="0.45">11.433</text>
<text x="1210" y="660.2" font-size="20" fill="#e6e49c" text-anchor="end" textLength="56" lengthAdjust="spacingAndGlyphs" stroke="#e6e49c" stroke-width="0.45">10.478</text>
<text x="1210" y="684.9" font-size="20" fill="#e6e49c" text-anchor="end" textLength="46.5" lengthAdjust="spacingAndGlyphs" stroke="#e6e49c" stroke-width="0.45">8.264</text>
<text x="1210" y="709.6" font-size="20" fill="#e6e49c" text-anchor="end" textLength="46.5" lengthAdjust="spacingAndGlyphs" stroke="#e6e49c" stroke-width="0.45">5.309</text>
<text x="1210" y="734.3" font-size="20" fill="#e6e49c" text-anchor="end" textLength="46.5" lengthAdjust="spacingAndGlyphs" stroke="#e6e49c" stroke-width="0.45">2.660</text>
<text x="1210" y="759.0" font-size="20" fill="#e6e49c" text-anchor="end" textLength="46.5" lengthAdjust="spacingAndGlyphs" stroke="#e6e49c" stroke-width="0.45">1.888</text>
<circle cx="20.8" cy="555" r="4.2" fill="none" stroke="#f0f0e8" stroke-width="3"/><path d="M23.1 550.4 L20.8 546.0 L18.5 550.4 Z M25.4 557.3 L29.8 555.0 L25.4 552.7 Z M18.5 559.6 L20.8 564.0 L23.1 559.6 Z M16.2 552.7 L11.8 555.0 L16.2 557.3 Z " fill="#f0f0e8"/>
<rect x="41.1" y="548" width="13.6" height="14" fill="#2e97f2"/>
<path d="M44.1 555 L47.1 558 L52.6 551.5" fill="none" stroke="#0a1630" stroke-width="2.2"/>
<line x1="10" y1="566.8" x2="557" y2="566.8" stroke="#30242a" stroke-width="1"/>
<path d="M19.5 575.5 H23 A5.3 5.3 0 0 1 23 586.1 H18.3" fill="none" stroke="#f0f0e8" stroke-width="3"/><path d="M20.8 569.9 L13.4 575.5 L20.8 581.1 Z" fill="#f0f0e8"/>
<path d="M70.5 576.8 H78.5 L74.5 582.3 Z" fill="#e8e8e0"/>
<text x="88.5" y="586.0" font-size="20" fill="#f0f0e8" textLength="118.5" lengthAdjust="spacingAndGlyphs" stroke="#f0f0e8" stroke-width="0.45">Core Services</text>
<text x="374" y="586.0" font-size="20" fill="#f0f0e8" textLength="140" lengthAdjust="spacingAndGlyphs" stroke="#f0f0e8" stroke-width="0.45">ECAN48RK Index</text>
<rect x="41.1" y="572.3" width="13.6" height="14" fill="#2e97f2"/>
<path d="M44.1 579.3 L47.1 582.3 L52.6 575.8" fill="none" stroke="#0a1630" stroke-width="2.2"/>
<line x1="10" y1="591.5" x2="557" y2="591.5" stroke="#30242a" stroke-width="1"/>
<circle cx="21.5" cy="603.5" r="4.2" fill="none" stroke="#f0f0e8" stroke-width="3"/><path d="M23.8 598.9 L21.5 594.5 L19.2 598.9 Z M26.1 605.8 L30.5 603.5 L26.1 601.2 Z M19.2 608.1 L21.5 612.5 L23.8 608.1 Z M16.9 601.2 L12.5 603.5 L16.9 605.8 Z " fill="#f0f0e8"/>
<path d="M86.7 599.8 V608.2 L93.7 604.0 Z" fill="#e8e8e0"/>
<text x="105" y="610.7" font-size="20" fill="#e88a30" textLength="61" lengthAdjust="spacingAndGlyphs" stroke="#e88a30" stroke-width="0.45">Shelter</text>
<text x="374" y="610.7" font-size="20" fill="#e88a30" textLength="141" lengthAdjust="spacingAndGlyphs" stroke="#e88a30" stroke-width="0.45">ECAN3KWX Index</text>
<rect x="41.1" y="597.0" width="13.6" height="14" fill="#2e97f2"/>
<path d="M44.1 604.0 L47.1 607.0 L52.6 600.5" fill="none" stroke="#0a1630" stroke-width="2.2"/>
<line x1="10" y1="616.2" x2="557" y2="616.2" stroke="#30242a" stroke-width="1"/>
<circle cx="21.5" cy="628.2" r="4.2" fill="none" stroke="#f0f0e8" stroke-width="3"/><path d="M23.8 623.6 L21.5 619.2 L19.2 623.6 Z M26.1 630.5 L30.5 628.2 L26.1 625.9 Z M19.2 632.8 L21.5 637.2 L23.8 632.8 Z M16.9 625.9 L12.5 628.2 L16.9 630.5 Z " fill="#f0f0e8"/>
<path d="M86.7 624.5 V632.9 L93.7 628.7 Z" fill="#e8e8e0"/>
<text x="105" y="635.4" font-size="20" fill="#e88a30" textLength="190" lengthAdjust="spacingAndGlyphs" stroke="#e88a30" stroke-width="0.45">Medical Care Services</text>
<text x="374" y="635.4" font-size="20" fill="#e88a30" textLength="137" lengthAdjust="spacingAndGlyphs" stroke="#e88a30" stroke-width="0.45">ECAN3VNF Index</text>
<rect x="41.1" y="621.7" width="13.6" height="14" fill="#2e97f2"/>
<path d="M44.1 628.7 L47.1 631.7 L52.6 625.2" fill="none" stroke="#0a1630" stroke-width="2.2"/>
<line x1="10" y1="640.9" x2="557" y2="640.9" stroke="#30242a" stroke-width="1"/>
<circle cx="21.5" cy="652.9" r="4.2" fill="none" stroke="#f0f0e8" stroke-width="3"/><path d="M23.8 648.3 L21.5 643.9 L19.2 648.3 Z M26.1 655.2 L30.5 652.9 L26.1 650.6 Z M19.2 657.5 L21.5 661.9 L23.8 657.5 Z M16.9 650.6 L12.5 652.9 L16.9 655.2 Z " fill="#f0f0e8"/>
<path d="M86.7 649.2 V657.6 L93.7 653.4 Z" fill="#e8e8e0"/>
<text x="105" y="660.1" font-size="20" fill="#e88a30" textLength="206" lengthAdjust="spacingAndGlyphs" stroke="#e88a30" stroke-width="0.45">Transportation Services</text>
<text x="374" y="660.1" font-size="20" fill="#e88a30" textLength="139" lengthAdjust="spacingAndGlyphs" stroke="#e88a30" stroke-width="0.45">ECANUFNZ Index</text>
<rect x="41.1" y="646.4" width="13.6" height="14" fill="#2e97f2"/>
<path d="M44.1 653.4 L47.1 656.4 L52.6 649.9" fill="none" stroke="#0a1630" stroke-width="2.2"/>
<line x1="10" y1="665.6" x2="557" y2="665.6" stroke="#30242a" stroke-width="1"/>
<circle cx="21.5" cy="677.6" r="4.2" fill="none" stroke="#f0f0e8" stroke-width="3"/><path d="M23.8 673.0 L21.5 668.6 L19.2 673.0 Z M26.1 679.9 L30.5 677.6 L26.1 675.3 Z M19.2 682.2 L21.5 686.6 L23.8 682.2 Z M16.9 675.3 L12.5 677.6 L16.9 679.9 Z " fill="#f0f0e8"/>
<path d="M86.7 673.9 V682.3 L93.7 678.1 Z" fill="#e8e8e0"/>
<text x="105" y="684.8" font-size="20" fill="#e88a30" textLength="259" lengthAdjust="spacingAndGlyphs" stroke="#e88a30" stroke-width="0.45">Education And Communicatio…</text>
<text x="374" y="684.8" font-size="20" fill="#e88a30" textLength="137" lengthAdjust="spacingAndGlyphs" stroke="#e88a30" stroke-width="0.45">ECAN40F6 Index</text>
<rect x="41.1" y="671.1" width="13.6" height="14" fill="#2e97f2"/>
<path d="M44.1 678.1 L47.1 681.1 L52.6 674.6" fill="none" stroke="#0a1630" stroke-width="2.2"/>
<line x1="10" y1="690.3" x2="557" y2="690.3" stroke="#30242a" stroke-width="1"/>
<circle cx="21.5" cy="702.3" r="4.2" fill="none" stroke="#f0f0e8" stroke-width="3"/><path d="M23.8 697.7 L21.5 693.3 L19.2 697.7 Z M26.1 704.6 L30.5 702.3 L26.1 700.0 Z M19.2 706.9 L21.5 711.3 L23.8 706.9 Z M16.9 700.0 L12.5 702.3 L16.9 704.6 Z " fill="#f0f0e8"/>
<path d="M86.7 698.6 V707.0 L93.7 702.8 Z" fill="#e8e8e0"/>
<text x="105" y="709.5" font-size="20" fill="#e88a30" textLength="172.5" lengthAdjust="spacingAndGlyphs" stroke="#e88a30" stroke-width="0.45">Recreation Services</text>
<text x="374" y="709.5" font-size="20" fill="#e88a30" textLength="141" lengthAdjust="spacingAndGlyphs" stroke="#e88a30" stroke-width="0.45">ECAN7MD4 Index</text>
<rect x="41.1" y="695.8" width="13.6" height="14" fill="#2e97f2"/>
<path d="M44.1 702.8 L47.1 705.8 L52.6 699.3" fill="none" stroke="#0a1630" stroke-width="2.2"/>
<line x1="10" y1="715.0" x2="557" y2="715.0" stroke="#30242a" stroke-width="1"/>
<circle cx="21.5" cy="727.0" r="4.2" fill="none" stroke="#f0f0e8" stroke-width="3"/><path d="M23.8 722.4 L21.5 718.0 L19.2 722.4 Z M26.1 729.3 L30.5 727.0 L26.1 724.7 Z M19.2 731.6 L21.5 736.0 L23.8 731.6 Z M16.9 724.7 L12.5 727.0 L16.9 729.3 Z " fill="#f0f0e8"/>
<path d="M86.7 723.3 V731.7 L93.7 727.5 Z" fill="#e8e8e0"/>
<text x="105" y="734.2" font-size="20" fill="#e88a30" textLength="209" lengthAdjust="spacingAndGlyphs" stroke="#e88a30" stroke-width="0.45">Other Personal Services</text>
<text x="374" y="734.2" font-size="20" fill="#e88a30" textLength="139" lengthAdjust="spacingAndGlyphs" stroke="#e88a30" stroke-width="0.45">ECAN7NED Index</text>
<rect x="41.1" y="720.5" width="13.6" height="14" fill="#2e97f2"/>
<path d="M44.1 727.5 L47.1 730.5 L52.6 724.0" fill="none" stroke="#0a1630" stroke-width="2.2"/>
<line x1="10" y1="739.7" x2="557" y2="739.7" stroke="#30242a" stroke-width="1"/>
<circle cx="21.5" cy="751.7" r="4.2" fill="none" stroke="#f0f0e8" stroke-width="3"/><path d="M23.8 747.1 L21.5 742.7 L19.2 747.1 Z M26.1 754.0 L30.5 751.7 L26.1 749.4 Z M19.2 756.3 L21.5 760.7 L23.8 756.3 Z M16.9 749.4 L12.5 751.7 L16.9 754.0 Z " fill="#f0f0e8"/>
<path d="M86.7 748.0 V756.4 L93.7 752.2 Z" fill="#e8e8e0"/>
<text x="105" y="758.9" font-size="20" fill="#e88a30" textLength="264" lengthAdjust="spacingAndGlyphs" stroke="#e88a30" stroke-width="0.45">Water, Sewer and Trash Colle…</text>
<text x="374" y="758.9" font-size="20" fill="#e88a30" textLength="137" lengthAdjust="spacingAndGlyphs" stroke="#e88a30" stroke-width="0.45">ECANJEN7 Index</text>
<rect x="41.1" y="745.2" width="13.6" height="14" fill="#2e97f2"/>
<path d="M44.1 752.2 L47.1 755.2 L52.6 748.7" fill="none" stroke="#0a1630" stroke-width="2.2"/>
<line x1="31.5" y1="542.5" x2="31.5" y2="768" stroke="#45453e" stroke-width="1.4"/>
<line x1="11.5" y1="542.5" x2="11.5" y2="768" stroke="#3a3a34" stroke-width="1.2"/>
<line x1="61.5" y1="542.5" x2="61.5" y2="768" stroke="#45453e" stroke-width="1.4"/>
<line x1="371" y1="542.5" x2="371" y2="768" stroke="#3a3a34" stroke-width="1.2"/>
<line x1="1213.3" y1="542.5" x2="1213.3" y2="768" stroke="#3a3a34" stroke-width="1.2"/>
</g>
</svg>
</body></html>
